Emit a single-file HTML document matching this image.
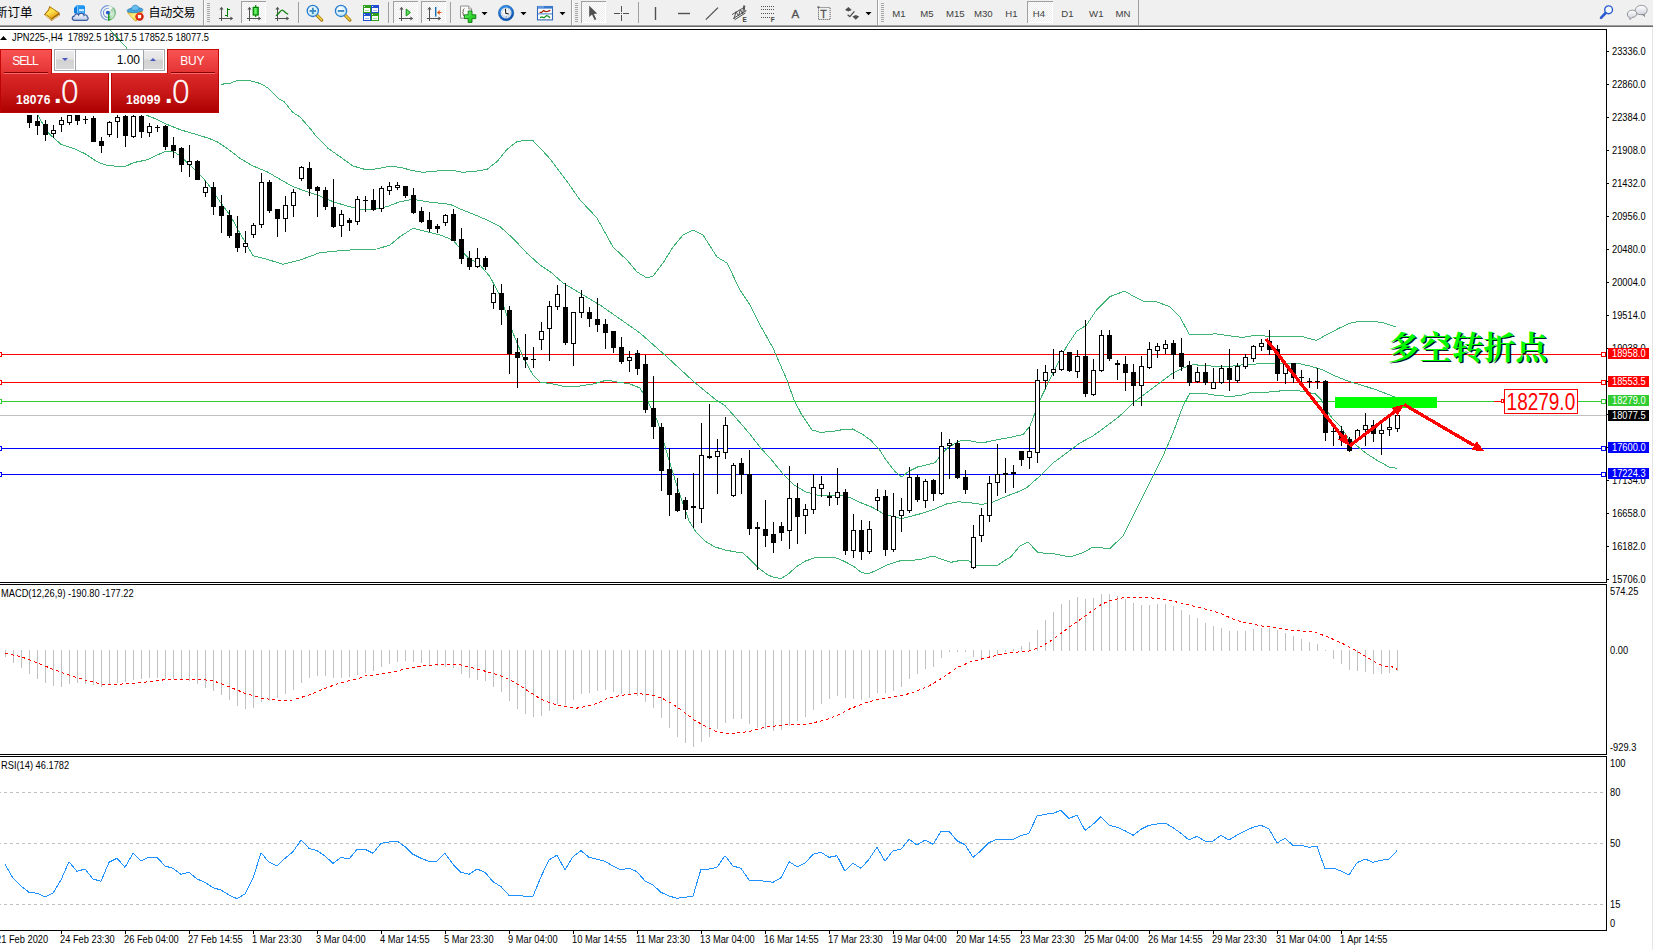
<!DOCTYPE html>
<html><head><meta charset="utf-8"><title>JPN225 H4</title>
<style>
html,body{margin:0;padding:0;background:#fff;}
body{width:1653px;height:950px;overflow:hidden;position:relative;font-family:"Liberation Sans","Noto Sans CJK SC",sans-serif;}
#tb{position:absolute;left:0;top:0;width:1653px;height:25px;background:#F0F0F0;}
#tbl1{position:absolute;left:0;top:25px;width:1653px;height:1px;background:#a0a0a0;}
#tbl2{position:absolute;left:0;top:26px;width:1653px;height:1px;background:#696969;}

#oc{position:absolute;left:0;top:49px;width:219px;height:64px;font-family:"Liberation Sans",sans-serif;}
#oc div{position:absolute;box-sizing:border-box;}
.tab{top:0;height:25px;background:linear-gradient(#f95252,#e23232);border:1px solid #c40808;border-bottom:none;color:#fff;font-size:12px;text-align:center;line-height:22px;letter-spacing:-1px;}
.big{top:24px;height:40px;background:linear-gradient(#dd2a2a 0%,#c81818 50%,#ae0000 100%);border:1px solid #bb0505;border-top:none;color:#fff;}
.ul{height:2px;border-top:1px solid #8a0000;border-bottom:1px solid #f46a6a;top:23px;}
.num{letter-spacing:0.25px;font-weight:bold;font-size:12px;color:#fff;white-space:nowrap;line-height:12px;}
.dot{font-weight:bold;font-size:27px;line-height:30px;color:#fff;}
.zero{font-family:"DejaVu Sans","Liberation Sans",sans-serif;font-weight:200;font-size:32.6px;line-height:34px;color:#fff;-webkit-text-stroke:0.55px #fff;transform:scaleX(0.95);transform-origin:0 0;}
.spin{background:linear-gradient(#ebebeb 0%,#e4e4e4 45%,#d2d2d2 50%,#d8d8d8 100%);}

</style></head><body>
<svg class="chart" width="1653" height="950" viewBox="0 0 1653 950" style="position:absolute;left:0;top:0">
<g shape-rendering="crispEdges">
<rect x="0" y="415" width="1606" height="1" fill="#C0C0C0"/>
<rect x="0" y="354" width="1606" height="1" fill="#FF0000"/>
<rect x="-2.5" y="352.5" width="4" height="4" fill="#fff" stroke="#FF0000" stroke-width="1"/>
<rect x="1601.5" y="352.5" width="4" height="4" fill="#fff" stroke="#FF0000" stroke-width="1"/>
<rect x="0" y="382" width="1606" height="1" fill="#FF0000"/>
<rect x="-2.5" y="380.5" width="4" height="4" fill="#fff" stroke="#FF0000" stroke-width="1"/>
<rect x="1601.5" y="380.5" width="4" height="4" fill="#fff" stroke="#FF0000" stroke-width="1"/>
<rect x="0" y="401" width="1606" height="1" fill="#32CD32"/>
<rect x="-2.5" y="399.5" width="4" height="4" fill="#fff" stroke="#32CD32" stroke-width="1"/>
<rect x="1601.5" y="399.5" width="4" height="4" fill="#fff" stroke="#32CD32" stroke-width="1"/>
<rect x="0" y="448" width="1606" height="1" fill="#0000FF"/>
<rect x="-2.5" y="446.5" width="4" height="4" fill="#fff" stroke="#0000FF" stroke-width="1"/>
<rect x="1601.5" y="446.5" width="4" height="4" fill="#fff" stroke="#0000FF" stroke-width="1"/>
<rect x="0" y="474" width="1606" height="1" fill="#0000FF"/>
<rect x="-2.5" y="472.5" width="4" height="4" fill="#fff" stroke="#0000FF" stroke-width="1"/>
<rect x="1601.5" y="472.5" width="4" height="4" fill="#fff" stroke="#0000FF" stroke-width="1"/>
<polyline points="221.2,84.5 225.0,83.7 230.0,83.4 233.0,82.0 237.0,80.6 243.0,80.4 249.0,80.4 252.0,81.3 257.0,82.4 262.0,84.4 268.0,88.0 273.0,93.0 278.0,98.3 284.0,101.5 288.0,106.4 292.0,111.5 296.0,114.5 300.0,117.0 305.0,122.5 311.0,129.5 316.0,136.0 322.0,142.0 328.0,148.3 334.0,152.5 340.0,156.7 353.0,166.0 367.0,170.0 380.0,168.3 390.0,166.3 400.0,167.3 413.0,170.7 423.0,172.3 437.0,171.0 450.0,170.0 463.0,172.3 477.0,171.0 487.0,169.3 497.0,161.7 507.0,149.3 517.0,141.7 527.0,140.0 533.0,140.7 542.0,150.0 551.0,160.0 566.0,180.0 580.0,200.0 597.0,218.0 613.0,247.0 627.0,260.0 637.0,272.0 647.0,278.0 653.0,276.0 663.0,263.0 673.0,247.0 683.0,235.0 693.0,230.0 703.0,235.0 717.0,257.0 727.0,263.0 740.0,290.0 750.0,305.0 760.0,325.0 773.0,348.0 787.0,380.0 794.0,400.0 801.0,413.4 812.0,430.0 821.0,432.5 834.6,431.0 843.5,429.5 852.5,429.0 861.4,433.6 870.4,440.0 879.0,449.0 886.0,460.0 895.0,471.6 901.7,477.0 908.4,471.6 917.4,467.0 926.0,465.0 935.0,462.7 942.0,453.7 948.7,447.0 960.0,441.0 969.0,440.7 982.0,443.0 995.7,440.0 1009.0,437.6 1023.0,434.6 1030.0,426.0 1040.0,399.7 1053.0,373.0 1066.5,346.5 1076.5,331.5 1086.5,325.0 1096.5,310.0 1110.0,296.6 1124.7,291.0 1133.0,296.0 1143.0,301.0 1156.0,301.6 1169.6,306.6 1179.6,316.6 1189.6,334.8 1203.0,334.8 1216.0,333.8 1229.5,335.8 1242.8,337.5 1256.0,335.0 1269.4,336.5 1282.7,336.4 1296.0,336.2 1302.0,336.3 1309.0,338.5 1316.5,340.4 1326.0,335.0 1339.0,328.3 1344.4,325.7 1349.0,323.5 1358.0,321.5 1369.0,321.0 1382.5,322.5 1395.8,327.0" fill="none" stroke="#3CB371" stroke-width="1" />
<polyline points="109.0,29.0 126.0,47.0 136.0,80.0 146.0,115.0 157.2,119.5 168.4,125.0 181.0,130.0 194.8,134.0 208.7,138.3 217.0,141.7 227.0,148.3 240.0,158.3 253.0,166.0 267.0,171.7 280.0,179.3 293.0,186.7 307.0,191.7 320.0,196.0 333.0,201.7 347.0,206.0 360.0,209.0 373.0,209.0 387.0,206.7 400.0,201.7 413.0,199.3 427.0,201.7 440.0,203.3 450.0,204.3 460.0,209.0 473.0,214.0 487.0,220.0 500.0,226.7 513.0,238.3 527.0,253.3 540.0,265.0 551.0,272.3 563.0,283.0 600.0,305.0 640.0,333.0 667.0,357.0 693.0,381.0 716.0,400.0 725.0,405.6 736.0,418.0 749.5,433.6 760.7,448.0 772.0,460.4 783.0,474.0 794.0,485.0 805.5,491.8 816.7,495.0 828.0,496.0 839.0,495.0 850.0,497.4 861.4,503.0 872.6,507.4 883.8,514.0 895.0,517.0 901.7,518.6 908.4,516.8 919.6,514.0 933.0,509.7 946.5,504.0 957.7,501.8 969.0,502.5 982.3,504.5 993.5,501.8 1007.0,496.0 1018.0,491.8 1026.6,487.8 1040.0,476.0 1053.0,463.0 1066.5,453.0 1079.8,443.0 1093.0,436.0 1106.4,426.0 1119.7,416.0 1133.0,403.0 1146.3,393.0 1159.6,383.0 1173.0,373.0 1183.0,368.0 1193.0,364.8 1206.0,365.4 1219.5,367.0 1229.5,366.4 1242.8,364.8 1256.0,364.0 1269.4,363.8 1282.7,364.0 1296.0,363.0 1309.0,365.8 1322.6,369.8 1336.0,376.4 1349.0,381.4 1362.5,385.4 1375.8,389.7 1389.0,394.7 1397.4,398.0" fill="none" stroke="#3CB371" stroke-width="1" />
<polyline points="30.0,95.0 38.3,116.0 48.0,132.7 61.2,144.5 72.4,148.0 84.9,153.6 97.4,161.9 105.7,165.0 114.0,166.0 125.2,166.5 133.6,162.6 147.5,159.8 155.8,155.7 165.6,151.2 174.0,151.8 180.9,156.4 186.4,162.0 194.8,169.6 203.0,178.0 210.0,186.7 220.0,201.7 230.0,215.0 240.0,233.3 253.0,255.7 267.0,259.3 283.0,264.3 300.0,260.0 320.0,252.7 340.0,250.7 360.0,249.3 377.0,249.0 390.0,245.0 400.0,236.7 413.0,228.3 427.0,231.7 440.0,235.0 453.0,240.0 467.0,256.7 480.0,265.0 490.0,276.7 500.0,296.0 513.0,333.0 523.0,357.0 533.0,375.0 540.0,382.0 553.0,384.0 567.0,387.0 580.0,386.0 593.0,384.0 607.0,380.0 617.0,382.0 630.0,384.0 640.0,388.0 647.0,400.0 657.0,420.0 660.0,429.0 669.0,460.0 678.0,489.5 689.0,521.0 696.0,532.0 705.0,541.0 714.0,546.6 725.0,550.0 736.0,552.0 743.0,553.0 749.5,559.0 758.5,568.0 767.4,574.6 774.0,577.5 781.0,578.4 787.6,574.6 796.5,566.7 805.5,561.0 814.4,558.0 823.4,557.8 834.6,557.3 843.5,561.0 852.5,565.6 861.4,572.3 868.0,574.0 877.0,570.0 888.0,564.5 899.5,561.0 910.7,560.7 922.0,559.0 933.0,556.0 942.0,559.4 951.0,562.3 960.0,560.5 969.0,561.0 975.6,565.6 986.8,565.6 998.0,565.0 1007.0,559.0 1010.0,557.7 1020.0,546.0 1028.0,542.0 1038.0,552.7 1053.0,553.7 1070.0,557.0 1083.0,552.7 1093.0,547.0 1109.8,548.7 1123.0,536.0 1136.4,509.4 1149.7,482.8 1163.0,456.0 1173.0,433.0 1183.0,406.0 1189.6,393.7 1203.0,393.0 1216.0,395.4 1229.5,396.4 1239.5,395.7 1249.4,393.0 1269.4,392.0 1282.7,390.7 1296.0,390.4 1304.7,391.6 1315.7,394.0 1321.0,399.6 1326.6,409.8 1332.0,418.0 1340.3,426.2 1348.5,438.6 1359.5,448.0 1365.0,452.5 1375.8,459.6 1389.0,467.0 1397.4,468.5" fill="none" stroke="#3CB371" stroke-width="1" />
<rect x="29" y="105" width="1" height="23" fill="#000"/>
<rect x="27" y="108" width="5" height="15" fill="#000"/>
<rect x="37" y="112" width="1" height="23" fill="#000"/>
<rect x="35" y="121" width="5" height="5" fill="#000"/>
<rect x="45" y="120" width="1" height="21" fill="#000"/>
<rect x="43" y="124" width="5" height="11" fill="#000"/>
<rect x="53" y="125" width="1" height="13" fill="#000"/>
<rect x="51" y="130" width="5" height="4" fill="#000"/>
<rect x="52" y="131" width="3" height="2" fill="#fff"/>
<rect x="61" y="117" width="1" height="15" fill="#000"/>
<rect x="59" y="120" width="5" height="5" fill="#000"/>
<rect x="60" y="121" width="3" height="3" fill="#fff"/>
<rect x="69" y="112" width="1" height="13" fill="#000"/>
<rect x="67" y="115" width="5" height="8" fill="#000"/>
<rect x="68" y="116" width="3" height="6" fill="#fff"/>
<rect x="77" y="112" width="1" height="13" fill="#000"/>
<rect x="75" y="115" width="5" height="6" fill="#000"/>
<rect x="85" y="116" width="1" height="8" fill="#000"/>
<rect x="83" y="119" width="5" height="1" fill="#000"/>
<rect x="93" y="116" width="1" height="26" fill="#000"/>
<rect x="91" y="118" width="5" height="24" fill="#000"/>
<rect x="101" y="137" width="1" height="16" fill="#000"/>
<rect x="99" y="141" width="5" height="5" fill="#000"/>
<rect x="109" y="121" width="1" height="16" fill="#000"/>
<rect x="107" y="122" width="5" height="13" fill="#000"/>
<rect x="108" y="123" width="3" height="11" fill="#fff"/>
<rect x="117" y="115" width="1" height="23" fill="#000"/>
<rect x="115" y="117" width="5" height="5" fill="#000"/>
<rect x="116" y="118" width="3" height="3" fill="#fff"/>
<rect x="125" y="113" width="1" height="34" fill="#000"/>
<rect x="123" y="116" width="5" height="20" fill="#000"/>
<rect x="133" y="113" width="1" height="25" fill="#000"/>
<rect x="131" y="116" width="5" height="21" fill="#000"/>
<rect x="132" y="117" width="3" height="19" fill="#fff"/>
<rect x="141" y="113" width="1" height="25" fill="#000"/>
<rect x="139" y="116" width="5" height="16" fill="#000"/>
<rect x="149" y="123" width="1" height="14" fill="#000"/>
<rect x="147" y="126" width="5" height="7" fill="#000"/>
<rect x="148" y="127" width="3" height="5" fill="#fff"/>
<rect x="157" y="125" width="1" height="7" fill="#000"/>
<rect x="155" y="127" width="5" height="1" fill="#000"/>
<rect x="165" y="125" width="1" height="25" fill="#000"/>
<rect x="163" y="126" width="5" height="21" fill="#000"/>
<rect x="173" y="137" width="1" height="21" fill="#000"/>
<rect x="171" y="145" width="5" height="6" fill="#000"/>
<rect x="181" y="147" width="1" height="25" fill="#000"/>
<rect x="179" y="148" width="5" height="17" fill="#000"/>
<rect x="189" y="145" width="1" height="32" fill="#000"/>
<rect x="187" y="161" width="5" height="4" fill="#000"/>
<rect x="188" y="162" width="3" height="2" fill="#fff"/>
<rect x="197" y="160" width="1" height="20" fill="#000"/>
<rect x="195" y="161" width="5" height="19" fill="#000"/>
<rect x="205" y="181" width="1" height="16" fill="#000"/>
<rect x="203" y="187" width="5" height="6" fill="#000"/>
<rect x="204" y="188" width="3" height="4" fill="#fff"/>
<rect x="213" y="182" width="1" height="33" fill="#000"/>
<rect x="211" y="187" width="5" height="20" fill="#000"/>
<rect x="221" y="195" width="1" height="38" fill="#000"/>
<rect x="219" y="206" width="5" height="10" fill="#000"/>
<rect x="229" y="210" width="1" height="28" fill="#000"/>
<rect x="227" y="215" width="5" height="21" fill="#000"/>
<rect x="237" y="216" width="1" height="36" fill="#000"/>
<rect x="235" y="233" width="5" height="15" fill="#000"/>
<rect x="245" y="231" width="1" height="22" fill="#000"/>
<rect x="243" y="243" width="5" height="4" fill="#000"/>
<rect x="244" y="244" width="3" height="2" fill="#fff"/>
<rect x="253" y="223" width="1" height="15" fill="#000"/>
<rect x="251" y="225" width="5" height="10" fill="#000"/>
<rect x="252" y="226" width="3" height="8" fill="#fff"/>
<rect x="261" y="173" width="1" height="55" fill="#000"/>
<rect x="259" y="182" width="5" height="43" fill="#000"/>
<rect x="260" y="183" width="3" height="41" fill="#fff"/>
<rect x="269" y="180" width="1" height="33" fill="#000"/>
<rect x="267" y="182" width="5" height="29" fill="#000"/>
<rect x="277" y="209" width="1" height="28" fill="#000"/>
<rect x="275" y="209" width="5" height="10" fill="#000"/>
<rect x="285" y="196" width="1" height="36" fill="#000"/>
<rect x="283" y="205" width="5" height="14" fill="#000"/>
<rect x="284" y="206" width="3" height="12" fill="#fff"/>
<rect x="293" y="189" width="1" height="28" fill="#000"/>
<rect x="291" y="192" width="5" height="14" fill="#000"/>
<rect x="292" y="193" width="3" height="12" fill="#fff"/>
<rect x="301" y="166" width="1" height="15" fill="#000"/>
<rect x="299" y="167" width="5" height="12" fill="#000"/>
<rect x="300" y="168" width="3" height="10" fill="#fff"/>
<rect x="309" y="162" width="1" height="34" fill="#000"/>
<rect x="307" y="168" width="5" height="21" fill="#000"/>
<rect x="317" y="186" width="1" height="31" fill="#000"/>
<rect x="315" y="187" width="5" height="4" fill="#000"/>
<rect x="325" y="187" width="1" height="23" fill="#000"/>
<rect x="323" y="190" width="5" height="17" fill="#000"/>
<rect x="333" y="179" width="1" height="49" fill="#000"/>
<rect x="331" y="207" width="5" height="20" fill="#000"/>
<rect x="341" y="210" width="1" height="27" fill="#000"/>
<rect x="339" y="214" width="5" height="12" fill="#000"/>
<rect x="340" y="215" width="3" height="10" fill="#fff"/>
<rect x="349" y="218" width="1" height="13" fill="#000"/>
<rect x="347" y="220" width="5" height="3" fill="#000"/>
<rect x="357" y="196" width="1" height="29" fill="#000"/>
<rect x="355" y="199" width="5" height="23" fill="#000"/>
<rect x="356" y="200" width="3" height="21" fill="#fff"/>
<rect x="365" y="196" width="1" height="16" fill="#000"/>
<rect x="363" y="200" width="5" height="1" fill="#000"/>
<rect x="373" y="189" width="1" height="22" fill="#000"/>
<rect x="371" y="200" width="5" height="10" fill="#000"/>
<rect x="381" y="186" width="1" height="26" fill="#000"/>
<rect x="379" y="188" width="5" height="21" fill="#000"/>
<rect x="380" y="189" width="3" height="19" fill="#fff"/>
<rect x="389" y="182" width="1" height="13" fill="#000"/>
<rect x="387" y="186" width="5" height="5" fill="#000"/>
<rect x="388" y="187" width="3" height="3" fill="#fff"/>
<rect x="397" y="182" width="1" height="8" fill="#000"/>
<rect x="395" y="185" width="5" height="3" fill="#000"/>
<rect x="396" y="186" width="3" height="1" fill="#fff"/>
<rect x="405" y="186" width="1" height="12" fill="#000"/>
<rect x="403" y="186" width="5" height="10" fill="#000"/>
<rect x="413" y="188" width="1" height="26" fill="#000"/>
<rect x="411" y="195" width="5" height="18" fill="#000"/>
<rect x="421" y="207" width="1" height="16" fill="#000"/>
<rect x="419" y="211" width="5" height="11" fill="#000"/>
<rect x="429" y="212" width="1" height="20" fill="#000"/>
<rect x="427" y="220" width="5" height="9" fill="#000"/>
<rect x="437" y="224" width="1" height="9" fill="#000"/>
<rect x="435" y="226" width="5" height="3" fill="#000"/>
<rect x="445" y="214" width="1" height="12" fill="#000"/>
<rect x="443" y="215" width="5" height="8" fill="#000"/>
<rect x="444" y="216" width="3" height="6" fill="#fff"/>
<rect x="453" y="209" width="1" height="32" fill="#000"/>
<rect x="451" y="214" width="5" height="27" fill="#000"/>
<rect x="461" y="228" width="1" height="36" fill="#000"/>
<rect x="459" y="239" width="5" height="20" fill="#000"/>
<rect x="469" y="251" width="1" height="19" fill="#000"/>
<rect x="467" y="258" width="5" height="9" fill="#000"/>
<rect x="477" y="248" width="1" height="20" fill="#000"/>
<rect x="475" y="258" width="5" height="9" fill="#000"/>
<rect x="476" y="259" width="3" height="7" fill="#fff"/>
<rect x="485" y="256" width="1" height="14" fill="#000"/>
<rect x="483" y="258" width="5" height="9" fill="#000"/>
<rect x="493" y="285" width="1" height="24" fill="#000"/>
<rect x="491" y="293" width="5" height="10" fill="#000"/>
<rect x="492" y="294" width="3" height="8" fill="#fff"/>
<rect x="501" y="284" width="1" height="41" fill="#000"/>
<rect x="499" y="293" width="5" height="17" fill="#000"/>
<rect x="509" y="306" width="1" height="68" fill="#000"/>
<rect x="507" y="310" width="5" height="44" fill="#000"/>
<rect x="517" y="338" width="1" height="50" fill="#000"/>
<rect x="515" y="352" width="5" height="6" fill="#000"/>
<rect x="525" y="334" width="1" height="34" fill="#000"/>
<rect x="523" y="357" width="5" height="3" fill="#000"/>
<rect x="533" y="347" width="1" height="21" fill="#000"/>
<rect x="531" y="359" width="5" height="1" fill="#000"/>
<rect x="541" y="322" width="1" height="28" fill="#000"/>
<rect x="539" y="331" width="5" height="9" fill="#000"/>
<rect x="540" y="332" width="3" height="7" fill="#fff"/>
<rect x="549" y="301" width="1" height="60" fill="#000"/>
<rect x="547" y="306" width="5" height="23" fill="#000"/>
<rect x="548" y="307" width="3" height="21" fill="#fff"/>
<rect x="557" y="285" width="1" height="25" fill="#000"/>
<rect x="555" y="294" width="5" height="13" fill="#000"/>
<rect x="556" y="295" width="3" height="11" fill="#fff"/>
<rect x="565" y="283" width="1" height="62" fill="#000"/>
<rect x="563" y="307" width="5" height="36" fill="#000"/>
<rect x="573" y="312" width="1" height="54" fill="#000"/>
<rect x="571" y="312" width="5" height="32" fill="#000"/>
<rect x="572" y="313" width="3" height="30" fill="#fff"/>
<rect x="581" y="290" width="1" height="28" fill="#000"/>
<rect x="579" y="297" width="5" height="16" fill="#000"/>
<rect x="580" y="298" width="3" height="14" fill="#fff"/>
<rect x="589" y="307" width="1" height="20" fill="#000"/>
<rect x="587" y="312" width="5" height="7" fill="#000"/>
<rect x="597" y="298" width="1" height="34" fill="#000"/>
<rect x="595" y="319" width="5" height="6" fill="#000"/>
<rect x="605" y="319" width="1" height="30" fill="#000"/>
<rect x="603" y="324" width="5" height="9" fill="#000"/>
<rect x="613" y="331" width="1" height="22" fill="#000"/>
<rect x="611" y="331" width="5" height="17" fill="#000"/>
<rect x="621" y="337" width="1" height="27" fill="#000"/>
<rect x="619" y="347" width="5" height="15" fill="#000"/>
<rect x="629" y="351" width="1" height="21" fill="#000"/>
<rect x="627" y="357" width="5" height="4" fill="#000"/>
<rect x="628" y="358" width="3" height="2" fill="#fff"/>
<rect x="637" y="350" width="1" height="25" fill="#000"/>
<rect x="635" y="353" width="5" height="16" fill="#000"/>
<rect x="645" y="355" width="1" height="58" fill="#000"/>
<rect x="643" y="364" width="5" height="46" fill="#000"/>
<rect x="653" y="376" width="1" height="63" fill="#000"/>
<rect x="651" y="408" width="5" height="19" fill="#000"/>
<rect x="661" y="423" width="1" height="68" fill="#000"/>
<rect x="659" y="427" width="5" height="44" fill="#000"/>
<rect x="669" y="448" width="1" height="68" fill="#000"/>
<rect x="667" y="469" width="5" height="26" fill="#000"/>
<rect x="677" y="478" width="1" height="34" fill="#000"/>
<rect x="675" y="493" width="5" height="18" fill="#000"/>
<rect x="685" y="497" width="1" height="22" fill="#000"/>
<rect x="683" y="500" width="5" height="10" fill="#000"/>
<rect x="693" y="473" width="1" height="55" fill="#000"/>
<rect x="691" y="506" width="5" height="2" fill="#000"/>
<rect x="701" y="423" width="1" height="100" fill="#000"/>
<rect x="699" y="455" width="5" height="54" fill="#000"/>
<rect x="700" y="456" width="3" height="52" fill="#fff"/>
<rect x="709" y="404" width="1" height="55" fill="#000"/>
<rect x="707" y="456" width="5" height="2" fill="#000"/>
<rect x="717" y="439" width="1" height="55" fill="#000"/>
<rect x="715" y="451" width="5" height="6" fill="#000"/>
<rect x="716" y="452" width="3" height="4" fill="#fff"/>
<rect x="725" y="417" width="1" height="42" fill="#000"/>
<rect x="723" y="425" width="5" height="28" fill="#000"/>
<rect x="724" y="426" width="3" height="26" fill="#fff"/>
<rect x="733" y="463" width="1" height="34" fill="#000"/>
<rect x="731" y="465" width="5" height="31" fill="#000"/>
<rect x="732" y="466" width="3" height="29" fill="#fff"/>
<rect x="741" y="458" width="1" height="36" fill="#000"/>
<rect x="739" y="463" width="5" height="12" fill="#000"/>
<rect x="749" y="450" width="1" height="85" fill="#000"/>
<rect x="747" y="474" width="5" height="55" fill="#000"/>
<rect x="757" y="522" width="1" height="48" fill="#000"/>
<rect x="755" y="527" width="5" height="2" fill="#000"/>
<rect x="765" y="500" width="1" height="47" fill="#000"/>
<rect x="763" y="529" width="5" height="7" fill="#000"/>
<rect x="773" y="522" width="1" height="31" fill="#000"/>
<rect x="771" y="534" width="5" height="9" fill="#000"/>
<rect x="781" y="522" width="1" height="19" fill="#000"/>
<rect x="779" y="526" width="5" height="7" fill="#000"/>
<rect x="789" y="466" width="1" height="83" fill="#000"/>
<rect x="787" y="498" width="5" height="33" fill="#000"/>
<rect x="788" y="499" width="3" height="31" fill="#fff"/>
<rect x="797" y="483" width="1" height="61" fill="#000"/>
<rect x="795" y="498" width="5" height="19" fill="#000"/>
<rect x="805" y="504" width="1" height="30" fill="#000"/>
<rect x="803" y="509" width="5" height="7" fill="#000"/>
<rect x="804" y="510" width="3" height="5" fill="#fff"/>
<rect x="813" y="474" width="1" height="40" fill="#000"/>
<rect x="811" y="487" width="5" height="23" fill="#000"/>
<rect x="812" y="488" width="3" height="21" fill="#fff"/>
<rect x="821" y="476" width="1" height="21" fill="#000"/>
<rect x="819" y="484" width="5" height="5" fill="#000"/>
<rect x="820" y="485" width="3" height="3" fill="#fff"/>
<rect x="829" y="492" width="1" height="14" fill="#000"/>
<rect x="827" y="496" width="5" height="2" fill="#000"/>
<rect x="837" y="468" width="1" height="37" fill="#000"/>
<rect x="835" y="492" width="5" height="6" fill="#000"/>
<rect x="836" y="493" width="3" height="4" fill="#fff"/>
<rect x="845" y="489" width="1" height="66" fill="#000"/>
<rect x="843" y="492" width="5" height="59" fill="#000"/>
<rect x="853" y="514" width="1" height="44" fill="#000"/>
<rect x="851" y="530" width="5" height="21" fill="#000"/>
<rect x="852" y="531" width="3" height="19" fill="#fff"/>
<rect x="861" y="520" width="1" height="40" fill="#000"/>
<rect x="859" y="530" width="5" height="22" fill="#000"/>
<rect x="869" y="521" width="1" height="33" fill="#000"/>
<rect x="867" y="529" width="5" height="23" fill="#000"/>
<rect x="868" y="530" width="3" height="21" fill="#fff"/>
<rect x="877" y="489" width="1" height="22" fill="#000"/>
<rect x="875" y="497" width="5" height="4" fill="#000"/>
<rect x="876" y="498" width="3" height="2" fill="#fff"/>
<rect x="885" y="490" width="1" height="66" fill="#000"/>
<rect x="883" y="496" width="5" height="54" fill="#000"/>
<rect x="893" y="493" width="1" height="59" fill="#000"/>
<rect x="891" y="516" width="5" height="34" fill="#000"/>
<rect x="892" y="517" width="3" height="32" fill="#fff"/>
<rect x="901" y="498" width="1" height="34" fill="#000"/>
<rect x="899" y="510" width="5" height="6" fill="#000"/>
<rect x="900" y="511" width="3" height="4" fill="#fff"/>
<rect x="909" y="467" width="1" height="46" fill="#000"/>
<rect x="907" y="477" width="5" height="34" fill="#000"/>
<rect x="908" y="478" width="3" height="32" fill="#fff"/>
<rect x="917" y="475" width="1" height="27" fill="#000"/>
<rect x="915" y="477" width="5" height="23" fill="#000"/>
<rect x="925" y="479" width="1" height="29" fill="#000"/>
<rect x="923" y="481" width="5" height="20" fill="#000"/>
<rect x="924" y="482" width="3" height="18" fill="#fff"/>
<rect x="933" y="479" width="1" height="22" fill="#000"/>
<rect x="931" y="480" width="5" height="14" fill="#000"/>
<rect x="941" y="432" width="1" height="63" fill="#000"/>
<rect x="939" y="446" width="5" height="48" fill="#000"/>
<rect x="940" y="447" width="3" height="46" fill="#fff"/>
<rect x="949" y="439" width="1" height="40" fill="#000"/>
<rect x="947" y="443" width="5" height="3" fill="#000"/>
<rect x="948" y="444" width="3" height="1" fill="#fff"/>
<rect x="957" y="440" width="1" height="39" fill="#000"/>
<rect x="955" y="443" width="5" height="35" fill="#000"/>
<rect x="965" y="470" width="1" height="24" fill="#000"/>
<rect x="963" y="477" width="5" height="13" fill="#000"/>
<rect x="973" y="525" width="1" height="44" fill="#000"/>
<rect x="971" y="537" width="5" height="31" fill="#000"/>
<rect x="972" y="538" width="3" height="29" fill="#fff"/>
<rect x="981" y="508" width="1" height="34" fill="#000"/>
<rect x="979" y="515" width="5" height="21" fill="#000"/>
<rect x="980" y="516" width="3" height="19" fill="#fff"/>
<rect x="989" y="476" width="1" height="46" fill="#000"/>
<rect x="987" y="483" width="5" height="33" fill="#000"/>
<rect x="988" y="484" width="3" height="31" fill="#fff"/>
<rect x="997" y="444" width="1" height="52" fill="#000"/>
<rect x="995" y="474" width="5" height="9" fill="#000"/>
<rect x="996" y="475" width="3" height="7" fill="#fff"/>
<rect x="1005" y="458" width="1" height="35" fill="#000"/>
<rect x="1003" y="473" width="5" height="2" fill="#000"/>
<rect x="1013" y="465" width="1" height="23" fill="#000"/>
<rect x="1011" y="472" width="5" height="2" fill="#000"/>
<rect x="1021" y="451" width="1" height="15" fill="#000"/>
<rect x="1019" y="451" width="5" height="9" fill="#000"/>
<rect x="1029" y="427" width="1" height="42" fill="#000"/>
<rect x="1027" y="451" width="5" height="7" fill="#000"/>
<rect x="1028" y="452" width="3" height="5" fill="#fff"/>
<rect x="1037" y="369" width="1" height="94" fill="#000"/>
<rect x="1035" y="380" width="5" height="73" fill="#000"/>
<rect x="1036" y="381" width="3" height="71" fill="#fff"/>
<rect x="1045" y="365" width="1" height="24" fill="#000"/>
<rect x="1043" y="372" width="5" height="9" fill="#000"/>
<rect x="1044" y="373" width="3" height="7" fill="#fff"/>
<rect x="1053" y="349" width="1" height="27" fill="#000"/>
<rect x="1051" y="369" width="5" height="4" fill="#000"/>
<rect x="1052" y="370" width="3" height="2" fill="#fff"/>
<rect x="1061" y="350" width="1" height="21" fill="#000"/>
<rect x="1059" y="351" width="5" height="19" fill="#000"/>
<rect x="1060" y="352" width="3" height="17" fill="#fff"/>
<rect x="1069" y="352" width="1" height="20" fill="#000"/>
<rect x="1067" y="352" width="5" height="19" fill="#000"/>
<rect x="1077" y="350" width="1" height="28" fill="#000"/>
<rect x="1075" y="356" width="5" height="16" fill="#000"/>
<rect x="1076" y="357" width="3" height="14" fill="#fff"/>
<rect x="1085" y="320" width="1" height="77" fill="#000"/>
<rect x="1083" y="356" width="5" height="38" fill="#000"/>
<rect x="1093" y="359" width="1" height="37" fill="#000"/>
<rect x="1091" y="370" width="5" height="25" fill="#000"/>
<rect x="1092" y="371" width="3" height="23" fill="#fff"/>
<rect x="1101" y="330" width="1" height="42" fill="#000"/>
<rect x="1099" y="335" width="5" height="36" fill="#000"/>
<rect x="1100" y="336" width="3" height="34" fill="#fff"/>
<rect x="1109" y="330" width="1" height="31" fill="#000"/>
<rect x="1107" y="335" width="5" height="24" fill="#000"/>
<rect x="1117" y="360" width="1" height="20" fill="#000"/>
<rect x="1115" y="363" width="5" height="2" fill="#000"/>
<rect x="1125" y="356" width="1" height="35" fill="#000"/>
<rect x="1123" y="364" width="5" height="9" fill="#000"/>
<rect x="1133" y="364" width="1" height="42" fill="#000"/>
<rect x="1131" y="372" width="5" height="14" fill="#000"/>
<rect x="1141" y="356" width="1" height="50" fill="#000"/>
<rect x="1139" y="366" width="5" height="20" fill="#000"/>
<rect x="1140" y="367" width="3" height="18" fill="#fff"/>
<rect x="1149" y="342" width="1" height="27" fill="#000"/>
<rect x="1147" y="349" width="5" height="19" fill="#000"/>
<rect x="1148" y="350" width="3" height="17" fill="#fff"/>
<rect x="1157" y="343" width="1" height="15" fill="#000"/>
<rect x="1155" y="346" width="5" height="5" fill="#000"/>
<rect x="1156" y="347" width="3" height="3" fill="#fff"/>
<rect x="1165" y="340" width="1" height="14" fill="#000"/>
<rect x="1163" y="344" width="5" height="5" fill="#000"/>
<rect x="1164" y="345" width="3" height="3" fill="#fff"/>
<rect x="1173" y="340" width="1" height="39" fill="#000"/>
<rect x="1171" y="343" width="5" height="12" fill="#000"/>
<rect x="1181" y="338" width="1" height="33" fill="#000"/>
<rect x="1179" y="353" width="5" height="14" fill="#000"/>
<rect x="1189" y="361" width="1" height="25" fill="#000"/>
<rect x="1187" y="365" width="5" height="18" fill="#000"/>
<rect x="1197" y="367" width="1" height="16" fill="#000"/>
<rect x="1195" y="372" width="5" height="10" fill="#000"/>
<rect x="1196" y="373" width="3" height="8" fill="#fff"/>
<rect x="1205" y="363" width="1" height="22" fill="#000"/>
<rect x="1203" y="372" width="5" height="11" fill="#000"/>
<rect x="1213" y="368" width="1" height="21" fill="#000"/>
<rect x="1211" y="382" width="5" height="7" fill="#000"/>
<rect x="1212" y="383" width="3" height="5" fill="#fff"/>
<rect x="1221" y="365" width="1" height="19" fill="#000"/>
<rect x="1219" y="368" width="5" height="15" fill="#000"/>
<rect x="1220" y="369" width="3" height="13" fill="#fff"/>
<rect x="1229" y="349" width="1" height="42" fill="#000"/>
<rect x="1227" y="368" width="5" height="12" fill="#000"/>
<rect x="1237" y="363" width="1" height="20" fill="#000"/>
<rect x="1235" y="366" width="5" height="15" fill="#000"/>
<rect x="1236" y="367" width="3" height="13" fill="#fff"/>
<rect x="1245" y="354" width="1" height="15" fill="#000"/>
<rect x="1243" y="357" width="5" height="10" fill="#000"/>
<rect x="1244" y="358" width="3" height="8" fill="#fff"/>
<rect x="1253" y="345" width="1" height="17" fill="#000"/>
<rect x="1251" y="346" width="5" height="13" fill="#000"/>
<rect x="1252" y="347" width="3" height="11" fill="#fff"/>
<rect x="1261" y="339" width="1" height="12" fill="#000"/>
<rect x="1259" y="343" width="5" height="4" fill="#000"/>
<rect x="1260" y="344" width="3" height="2" fill="#fff"/>
<rect x="1269" y="330" width="1" height="25" fill="#000"/>
<rect x="1267" y="341" width="5" height="9" fill="#000"/>
<rect x="1277" y="345" width="1" height="36" fill="#000"/>
<rect x="1275" y="349" width="5" height="25" fill="#000"/>
<rect x="1285" y="361" width="1" height="23" fill="#000"/>
<rect x="1283" y="364" width="5" height="10" fill="#000"/>
<rect x="1284" y="365" width="3" height="8" fill="#fff"/>
<rect x="1293" y="363" width="1" height="20" fill="#000"/>
<rect x="1291" y="363" width="5" height="15" fill="#000"/>
<rect x="1301" y="370" width="1" height="12" fill="#000"/>
<rect x="1299" y="377" width="5" height="1" fill="#000"/>
<rect x="1309" y="378" width="1" height="10" fill="#000"/>
<rect x="1307" y="381" width="5" height="1" fill="#000"/>
<rect x="1317" y="368" width="1" height="21" fill="#000"/>
<rect x="1315" y="381" width="5" height="1" fill="#000"/>
<rect x="1325" y="380" width="1" height="61" fill="#000"/>
<rect x="1323" y="381" width="5" height="52" fill="#000"/>
<rect x="1333" y="428" width="1" height="18" fill="#000"/>
<rect x="1331" y="431" width="5" height="1" fill="#000"/>
<rect x="1341" y="426" width="1" height="20" fill="#000"/>
<rect x="1339" y="431" width="5" height="9" fill="#000"/>
<rect x="1349" y="437" width="1" height="15" fill="#000"/>
<rect x="1347" y="439" width="5" height="12" fill="#000"/>
<rect x="1357" y="429" width="1" height="13" fill="#000"/>
<rect x="1355" y="430" width="5" height="10" fill="#000"/>
<rect x="1356" y="431" width="3" height="8" fill="#fff"/>
<rect x="1365" y="413" width="1" height="33" fill="#000"/>
<rect x="1363" y="425" width="5" height="5" fill="#000"/>
<rect x="1364" y="426" width="3" height="3" fill="#fff"/>
<rect x="1373" y="420" width="1" height="22" fill="#000"/>
<rect x="1371" y="425" width="5" height="9" fill="#000"/>
<rect x="1381" y="424" width="1" height="31" fill="#000"/>
<rect x="1379" y="430" width="5" height="4" fill="#000"/>
<rect x="1380" y="431" width="3" height="2" fill="#fff"/>
<rect x="1389" y="417" width="1" height="19" fill="#000"/>
<rect x="1387" y="427" width="5" height="3" fill="#000"/>
<rect x="1388" y="428" width="3" height="1" fill="#fff"/>
<rect x="1397" y="413" width="1" height="19" fill="#000"/>
<rect x="1395" y="415" width="5" height="14" fill="#000"/>
<rect x="1396" y="416" width="3" height="12" fill="#fff"/>
<rect x="1335" y="397" width="102" height="11" fill="#00FF00"/>
<rect x="5" y="650" width="1" height="7" fill="#C0C0C0"/>
<rect x="13" y="650" width="1" height="13" fill="#C0C0C0"/>
<rect x="21" y="650" width="1" height="18" fill="#C0C0C0"/>
<rect x="29" y="650" width="1" height="24" fill="#C0C0C0"/>
<rect x="37" y="650" width="1" height="29" fill="#C0C0C0"/>
<rect x="45" y="650" width="1" height="33" fill="#C0C0C0"/>
<rect x="53" y="650" width="1" height="36" fill="#C0C0C0"/>
<rect x="61" y="650" width="1" height="37" fill="#C0C0C0"/>
<rect x="69" y="650" width="1" height="34" fill="#C0C0C0"/>
<rect x="77" y="650" width="1" height="33" fill="#C0C0C0"/>
<rect x="85" y="650" width="1" height="34" fill="#C0C0C0"/>
<rect x="93" y="650" width="1" height="35" fill="#C0C0C0"/>
<rect x="101" y="650" width="1" height="37" fill="#C0C0C0"/>
<rect x="109" y="650" width="1" height="35" fill="#C0C0C0"/>
<rect x="117" y="650" width="1" height="33" fill="#C0C0C0"/>
<rect x="125" y="650" width="1" height="32" fill="#C0C0C0"/>
<rect x="133" y="650" width="1" height="30" fill="#C0C0C0"/>
<rect x="141" y="650" width="1" height="29" fill="#C0C0C0"/>
<rect x="149" y="650" width="1" height="28" fill="#C0C0C0"/>
<rect x="157" y="650" width="1" height="28" fill="#C0C0C0"/>
<rect x="165" y="650" width="1" height="29" fill="#C0C0C0"/>
<rect x="173" y="650" width="1" height="29" fill="#C0C0C0"/>
<rect x="181" y="650" width="1" height="30" fill="#C0C0C0"/>
<rect x="189" y="650" width="1" height="31" fill="#C0C0C0"/>
<rect x="197" y="650" width="1" height="34" fill="#C0C0C0"/>
<rect x="205" y="650" width="1" height="38" fill="#C0C0C0"/>
<rect x="213" y="650" width="1" height="41" fill="#C0C0C0"/>
<rect x="221" y="650" width="1" height="45" fill="#C0C0C0"/>
<rect x="229" y="650" width="1" height="50" fill="#C0C0C0"/>
<rect x="237" y="650" width="1" height="56" fill="#C0C0C0"/>
<rect x="245" y="650" width="1" height="59" fill="#C0C0C0"/>
<rect x="253" y="650" width="1" height="58" fill="#C0C0C0"/>
<rect x="261" y="650" width="1" height="52" fill="#C0C0C0"/>
<rect x="269" y="650" width="1" height="51" fill="#C0C0C0"/>
<rect x="277" y="650" width="1" height="48" fill="#C0C0C0"/>
<rect x="285" y="650" width="1" height="44" fill="#C0C0C0"/>
<rect x="293" y="650" width="1" height="40" fill="#C0C0C0"/>
<rect x="301" y="650" width="1" height="33" fill="#C0C0C0"/>
<rect x="309" y="650" width="1" height="28" fill="#C0C0C0"/>
<rect x="317" y="650" width="1" height="26" fill="#C0C0C0"/>
<rect x="325" y="650" width="1" height="26" fill="#C0C0C0"/>
<rect x="333" y="650" width="1" height="28" fill="#C0C0C0"/>
<rect x="341" y="650" width="1" height="28" fill="#C0C0C0"/>
<rect x="349" y="650" width="1" height="27" fill="#C0C0C0"/>
<rect x="357" y="650" width="1" height="25" fill="#C0C0C0"/>
<rect x="365" y="650" width="1" height="23" fill="#C0C0C0"/>
<rect x="373" y="650" width="1" height="21" fill="#C0C0C0"/>
<rect x="381" y="650" width="1" height="17" fill="#C0C0C0"/>
<rect x="389" y="650" width="1" height="14" fill="#C0C0C0"/>
<rect x="397" y="650" width="1" height="12" fill="#C0C0C0"/>
<rect x="405" y="650" width="1" height="11" fill="#C0C0C0"/>
<rect x="413" y="650" width="1" height="12" fill="#C0C0C0"/>
<rect x="421" y="650" width="1" height="13" fill="#C0C0C0"/>
<rect x="429" y="650" width="1" height="15" fill="#C0C0C0"/>
<rect x="437" y="650" width="1" height="16" fill="#C0C0C0"/>
<rect x="445" y="650" width="1" height="17" fill="#C0C0C0"/>
<rect x="453" y="650" width="1" height="18" fill="#C0C0C0"/>
<rect x="461" y="650" width="1" height="24" fill="#C0C0C0"/>
<rect x="469" y="650" width="1" height="28" fill="#C0C0C0"/>
<rect x="477" y="650" width="1" height="30" fill="#C0C0C0"/>
<rect x="485" y="650" width="1" height="31" fill="#C0C0C0"/>
<rect x="493" y="650" width="1" height="37" fill="#C0C0C0"/>
<rect x="501" y="650" width="1" height="42" fill="#C0C0C0"/>
<rect x="509" y="650" width="1" height="51" fill="#C0C0C0"/>
<rect x="517" y="650" width="1" height="59" fill="#C0C0C0"/>
<rect x="525" y="650" width="1" height="64" fill="#C0C0C0"/>
<rect x="533" y="650" width="1" height="67" fill="#C0C0C0"/>
<rect x="541" y="650" width="1" height="66" fill="#C0C0C0"/>
<rect x="549" y="650" width="1" height="61" fill="#C0C0C0"/>
<rect x="557" y="650" width="1" height="54" fill="#C0C0C0"/>
<rect x="565" y="650" width="1" height="55" fill="#C0C0C0"/>
<rect x="573" y="650" width="1" height="50" fill="#C0C0C0"/>
<rect x="581" y="650" width="1" height="44" fill="#C0C0C0"/>
<rect x="589" y="650" width="1" height="43" fill="#C0C0C0"/>
<rect x="597" y="650" width="1" height="41" fill="#C0C0C0"/>
<rect x="605" y="650" width="1" height="40" fill="#C0C0C0"/>
<rect x="613" y="650" width="1" height="42" fill="#C0C0C0"/>
<rect x="621" y="650" width="1" height="44" fill="#C0C0C0"/>
<rect x="629" y="650" width="1" height="45" fill="#C0C0C0"/>
<rect x="637" y="650" width="1" height="46" fill="#C0C0C0"/>
<rect x="645" y="650" width="1" height="52" fill="#C0C0C0"/>
<rect x="653" y="650" width="1" height="58" fill="#C0C0C0"/>
<rect x="661" y="650" width="1" height="68" fill="#C0C0C0"/>
<rect x="669" y="650" width="1" height="78" fill="#C0C0C0"/>
<rect x="677" y="650" width="1" height="87" fill="#C0C0C0"/>
<rect x="685" y="650" width="1" height="93" fill="#C0C0C0"/>
<rect x="693" y="650" width="1" height="97" fill="#C0C0C0"/>
<rect x="701" y="650" width="1" height="92" fill="#C0C0C0"/>
<rect x="709" y="650" width="1" height="87" fill="#C0C0C0"/>
<rect x="717" y="650" width="1" height="79" fill="#C0C0C0"/>
<rect x="725" y="650" width="1" height="73" fill="#C0C0C0"/>
<rect x="733" y="650" width="1" height="69" fill="#C0C0C0"/>
<rect x="741" y="650" width="1" height="69" fill="#C0C0C0"/>
<rect x="749" y="650" width="1" height="74" fill="#C0C0C0"/>
<rect x="757" y="650" width="1" height="78" fill="#C0C0C0"/>
<rect x="765" y="650" width="1" height="79" fill="#C0C0C0"/>
<rect x="773" y="650" width="1" height="81" fill="#C0C0C0"/>
<rect x="781" y="650" width="1" height="80" fill="#C0C0C0"/>
<rect x="789" y="650" width="1" height="76" fill="#C0C0C0"/>
<rect x="797" y="650" width="1" height="71" fill="#C0C0C0"/>
<rect x="805" y="650" width="1" height="67" fill="#C0C0C0"/>
<rect x="813" y="650" width="1" height="60" fill="#C0C0C0"/>
<rect x="821" y="650" width="1" height="54" fill="#C0C0C0"/>
<rect x="829" y="650" width="1" height="49" fill="#C0C0C0"/>
<rect x="837" y="650" width="1" height="46" fill="#C0C0C0"/>
<rect x="845" y="650" width="1" height="48" fill="#C0C0C0"/>
<rect x="853" y="650" width="1" height="49" fill="#C0C0C0"/>
<rect x="861" y="650" width="1" height="50" fill="#C0C0C0"/>
<rect x="869" y="650" width="1" height="48" fill="#C0C0C0"/>
<rect x="877" y="650" width="1" height="43" fill="#C0C0C0"/>
<rect x="885" y="650" width="1" height="43" fill="#C0C0C0"/>
<rect x="893" y="650" width="1" height="41" fill="#C0C0C0"/>
<rect x="901" y="650" width="1" height="37" fill="#C0C0C0"/>
<rect x="909" y="650" width="1" height="29" fill="#C0C0C0"/>
<rect x="917" y="650" width="1" height="24" fill="#C0C0C0"/>
<rect x="925" y="650" width="1" height="19" fill="#C0C0C0"/>
<rect x="933" y="650" width="1" height="17" fill="#C0C0C0"/>
<rect x="941" y="650" width="1" height="8" fill="#C0C0C0"/>
<rect x="949" y="650" width="1" height="2" fill="#C0C0C0"/>
<rect x="957" y="650" width="1" height="2" fill="#C0C0C0"/>
<rect x="965" y="650" width="1" height="2" fill="#C0C0C0"/>
<rect x="973" y="650" width="1" height="7" fill="#C0C0C0"/>
<rect x="981" y="650" width="1" height="9" fill="#C0C0C0"/>
<rect x="989" y="650" width="1" height="7" fill="#C0C0C0"/>
<rect x="997" y="650" width="1" height="5" fill="#C0C0C0"/>
<rect x="1005" y="650" width="1" height="2" fill="#C0C0C0"/>
<rect x="1013" y="649" width="1" height="2" fill="#C0C0C0"/>
<rect x="1021" y="646" width="1" height="5" fill="#C0C0C0"/>
<rect x="1029" y="642" width="1" height="9" fill="#C0C0C0"/>
<rect x="1037" y="630" width="1" height="21" fill="#C0C0C0"/>
<rect x="1045" y="620" width="1" height="31" fill="#C0C0C0"/>
<rect x="1053" y="612" width="1" height="39" fill="#C0C0C0"/>
<rect x="1061" y="604" width="1" height="47" fill="#C0C0C0"/>
<rect x="1069" y="600" width="1" height="51" fill="#C0C0C0"/>
<rect x="1077" y="597" width="1" height="54" fill="#C0C0C0"/>
<rect x="1085" y="599" width="1" height="52" fill="#C0C0C0"/>
<rect x="1093" y="598" width="1" height="53" fill="#C0C0C0"/>
<rect x="1101" y="594" width="1" height="57" fill="#C0C0C0"/>
<rect x="1109" y="594" width="1" height="57" fill="#C0C0C0"/>
<rect x="1117" y="596" width="1" height="55" fill="#C0C0C0"/>
<rect x="1125" y="599" width="1" height="52" fill="#C0C0C0"/>
<rect x="1133" y="603" width="1" height="48" fill="#C0C0C0"/>
<rect x="1141" y="605" width="1" height="46" fill="#C0C0C0"/>
<rect x="1149" y="605" width="1" height="46" fill="#C0C0C0"/>
<rect x="1157" y="604" width="1" height="47" fill="#C0C0C0"/>
<rect x="1165" y="604" width="1" height="47" fill="#C0C0C0"/>
<rect x="1173" y="606" width="1" height="45" fill="#C0C0C0"/>
<rect x="1181" y="610" width="1" height="41" fill="#C0C0C0"/>
<rect x="1189" y="615" width="1" height="36" fill="#C0C0C0"/>
<rect x="1197" y="618" width="1" height="33" fill="#C0C0C0"/>
<rect x="1205" y="623" width="1" height="28" fill="#C0C0C0"/>
<rect x="1213" y="626" width="1" height="25" fill="#C0C0C0"/>
<rect x="1221" y="628" width="1" height="23" fill="#C0C0C0"/>
<rect x="1229" y="631" width="1" height="20" fill="#C0C0C0"/>
<rect x="1237" y="631" width="1" height="20" fill="#C0C0C0"/>
<rect x="1245" y="631" width="1" height="20" fill="#C0C0C0"/>
<rect x="1253" y="629" width="1" height="22" fill="#C0C0C0"/>
<rect x="1261" y="628" width="1" height="23" fill="#C0C0C0"/>
<rect x="1269" y="628" width="1" height="23" fill="#C0C0C0"/>
<rect x="1277" y="630" width="1" height="21" fill="#C0C0C0"/>
<rect x="1285" y="633" width="1" height="18" fill="#C0C0C0"/>
<rect x="1293" y="636" width="1" height="15" fill="#C0C0C0"/>
<rect x="1301" y="639" width="1" height="12" fill="#C0C0C0"/>
<rect x="1309" y="642" width="1" height="9" fill="#C0C0C0"/>
<rect x="1317" y="644" width="1" height="7" fill="#C0C0C0"/>
<rect x="1325" y="650" width="1" height="1" fill="#C0C0C0"/>
<rect x="1333" y="650" width="1" height="9" fill="#C0C0C0"/>
<rect x="1341" y="650" width="1" height="14" fill="#C0C0C0"/>
<rect x="1349" y="650" width="1" height="20" fill="#C0C0C0"/>
<rect x="1357" y="650" width="1" height="21" fill="#C0C0C0"/>
<rect x="1365" y="650" width="1" height="22" fill="#C0C0C0"/>
<rect x="1373" y="650" width="1" height="24" fill="#C0C0C0"/>
<rect x="1381" y="650" width="1" height="24" fill="#C0C0C0"/>
<rect x="1389" y="650" width="1" height="23" fill="#C0C0C0"/>
<rect x="1397" y="650" width="1" height="21" fill="#C0C0C0"/>
<polyline points="5.0,653.3 21.0,656.7 37.0,662.7 53.0,669.3 69.0,675.0 85.0,680.0 101.0,684.0 117.0,684.3 133.0,683.3 149.0,681.7 165.0,679.7 181.0,679.0 197.0,679.0 213.0,680.7 229.0,686.7 245.0,693.3 261.0,698.0 277.0,700.3 293.0,700.0 309.0,695.0 325.0,688.3 341.0,682.7 357.0,679.0 365.0,676.0 381.0,674.3 397.0,671.0 413.0,667.3 429.0,665.3 445.0,664.3 461.0,665.0 477.0,669.0 493.0,673.3 509.0,679.0 525.0,689.0 541.0,699.3 551.0,703.3 564.3,706.7 576.0,708.3 587.7,706.0 597.7,703.3 606.0,699.0 617.7,696.0 629.3,694.3 639.3,693.7 651.0,695.0 661.0,697.7 672.7,704.0 684.3,712.3 694.3,720.0 706.0,726.7 717.7,732.3 729.3,733.7 741.0,732.7 752.7,730.7 764.3,727.3 777.7,725.7 791.0,724.3 807.7,724.3 817.7,721.7 827.7,719.3 837.7,715.0 851.0,708.3 864.3,703.3 877.7,699.3 894.3,696.7 911.0,693.3 927.7,686.7 944.3,676.7 957.7,667.3 971.0,661.7 984.3,658.3 997.7,655.0 1014.3,652.3 1029.3,651.0 1041.0,646.7 1051.0,640.7 1061.0,633.3 1071.0,626.0 1084.3,616.7 1094.3,609.3 1102.0,604.0 1112.0,600.0 1125.3,597.3 1145.3,597.3 1162.0,599.0 1175.3,601.7 1188.7,605.0 1202.0,608.3 1218.7,612.7 1235.3,620.0 1248.7,623.3 1262.0,626.0 1275.3,627.7 1288.7,630.0 1302.0,631.0 1315.3,632.3 1328.7,637.3 1342.0,643.3 1355.3,650.0 1368.7,658.3 1382.0,665.7 1392.0,666.7 1397.0,669.3" fill="none" stroke="#FF0000" stroke-width="1" stroke-dasharray="3 3"/>
<line x1="0" y1="792.5" x2="1606" y2="792.5" stroke="#C0C0C0" stroke-width="1" stroke-dasharray="3 3" stroke-dashoffset="2"/>
<line x1="0" y1="843.5" x2="1606" y2="843.5" stroke="#C0C0C0" stroke-width="1" stroke-dasharray="3 3" stroke-dashoffset="2"/>
<line x1="0" y1="904.5" x2="1606" y2="904.5" stroke="#C0C0C0" stroke-width="1" stroke-dasharray="3 3" stroke-dashoffset="2"/>
<polyline points="5.0,864.3 13.0,878.3 21.0,886.0 29.0,892.3 37.0,893.3 45.0,896.7 53.0,893.3 61.0,880.0 69.0,861.7 77.0,871.3 85.0,869.0 93.0,879.0 101.0,881.3 109.0,862.3 117.0,858.3 125.0,867.3 133.0,853.3 141.0,860.7 149.0,857.3 157.0,857.3 165.0,866.0 173.0,868.3 181.0,874.3 189.0,872.3 197.0,879.0 205.0,882.3 213.0,887.7 221.0,890.0 229.0,895.0 237.0,898.7 245.0,894.0 253.0,878.3 261.0,852.7 269.0,862.3 277.0,865.7 285.0,858.3 293.0,851.7 301.0,840.0 309.0,848.3 317.0,850.7 325.0,856.0 333.0,863.3 341.0,857.3 349.0,859.0 357.0,849.3 365.0,849.3 373.0,853.3 381.0,843.3 389.0,842.0 397.0,841.0 405.0,846.7 413.0,854.3 421.0,858.3 429.0,861.3 437.0,861.3 445.0,853.3 453.0,864.3 461.0,872.3 469.0,874.3 477.0,869.0 485.0,872.3 493.0,881.7 501.0,886.7 509.0,895.3 517.0,895.3 525.0,896.3 533.0,896.3 541.0,876.7 549.0,860.0 557.0,855.0 565.0,870.0 573.0,856.7 581.0,850.7 589.0,857.3 597.0,859.3 605.0,861.3 613.0,866.0 621.0,870.0 629.0,868.0 637.0,871.7 645.0,881.0 653.0,885.0 661.0,892.3 669.0,896.0 677.0,898.3 685.0,897.3 693.0,896.0 701.0,869.3 709.0,869.0 717.0,867.3 725.0,855.7 733.0,866.0 741.0,868.3 749.0,880.0 757.0,880.0 765.0,881.3 773.0,882.3 781.0,877.7 789.0,861.7 797.0,866.7 805.0,863.3 813.0,854.3 821.0,852.3 829.0,857.3 837.0,855.7 845.0,871.3 853.0,863.3 861.0,868.3 869.0,859.3 877.0,847.3 885.0,861.3 893.0,850.7 901.0,849.3 909.0,839.3 917.0,845.0 925.0,840.0 933.0,844.3 941.0,831.3 949.0,831.3 957.0,840.7 965.0,844.7 973.0,857.3 981.0,850.7 989.0,842.7 997.0,839.3 1005.0,839.3 1013.0,839.3 1021.0,835.7 1029.0,833.3 1037.0,816.0 1045.0,814.3 1053.0,813.3 1061.0,810.3 1069.0,818.3 1077.0,815.3 1085.0,830.3 1093.0,824.3 1101.0,816.7 1109.0,825.3 1117.0,827.3 1125.0,830.7 1133.0,835.3 1141.0,829.3 1149.0,825.3 1157.0,824.0 1165.0,823.0 1173.0,827.7 1181.0,833.3 1189.0,840.0 1197.0,836.3 1205.0,841.0 1213.0,841.0 1221.0,835.3 1229.0,840.0 1237.0,835.0 1245.0,831.0 1253.0,827.3 1261.0,825.3 1269.0,829.0 1277.0,843.0 1285.0,838.3 1293.0,845.3 1301.0,845.3 1309.0,847.3 1317.0,846.3 1325.0,869.0 1333.0,868.0 1341.0,871.0 1349.0,875.0 1357.0,862.7 1365.0,859.0 1373.0,862.3 1381.0,860.3 1389.0,859.0 1397.0,850.7" fill="none" stroke="#1E90FF" stroke-width="1" />
<rect x="0" y="29" width="1607" height="1" fill="#000"/>
<rect x="1606" y="29" width="1" height="554" fill="#000"/>
<rect x="0" y="582" width="1607" height="1" fill="#000"/>
<rect x="0" y="584" width="1607" height="1" fill="#000"/>
<rect x="1606" y="584" width="1" height="171" fill="#000"/>
<rect x="0" y="754" width="1607" height="1" fill="#000"/>
<rect x="0" y="756" width="1607" height="1" fill="#000"/>
<rect x="1606" y="756" width="1" height="175" fill="#000"/>
<rect x="0" y="930" width="1607" height="1" fill="#000"/>
<rect x="1607" y="51" width="2" height="1" fill="#000"/>
<rect x="1607" y="84" width="2" height="1" fill="#000"/>
<rect x="1607" y="117" width="2" height="1" fill="#000"/>
<rect x="1607" y="150" width="2" height="1" fill="#000"/>
<rect x="1607" y="183" width="2" height="1" fill="#000"/>
<rect x="1607" y="216" width="2" height="1" fill="#000"/>
<rect x="1607" y="249" width="2" height="1" fill="#000"/>
<rect x="1607" y="282" width="2" height="1" fill="#000"/>
<rect x="1607" y="315" width="2" height="1" fill="#000"/>
<rect x="1607" y="348" width="2" height="1" fill="#000"/>
<rect x="1607" y="480" width="2" height="1" fill="#000"/>
<rect x="1607" y="513" width="2" height="1" fill="#000"/>
<rect x="1607" y="546" width="2" height="1" fill="#000"/>
<rect x="1607" y="579" width="2" height="1" fill="#000"/>
<rect x="1607" y="381" width="2" height="1" fill="#000"/>
<rect x="1607" y="414" width="2" height="1" fill="#000"/>
<rect x="1607" y="447" width="2" height="1" fill="#000"/>
<rect x="61" y="931" width="1" height="3" fill="#000"/>
<rect x="125" y="931" width="1" height="3" fill="#000"/>
<rect x="189" y="931" width="1" height="3" fill="#000"/>
<rect x="253" y="931" width="1" height="3" fill="#000"/>
<rect x="317" y="931" width="1" height="3" fill="#000"/>
<rect x="381" y="931" width="1" height="3" fill="#000"/>
<rect x="445" y="931" width="1" height="3" fill="#000"/>
<rect x="509" y="931" width="1" height="3" fill="#000"/>
<rect x="573" y="931" width="1" height="3" fill="#000"/>
<rect x="637" y="931" width="1" height="3" fill="#000"/>
<rect x="701" y="931" width="1" height="3" fill="#000"/>
<rect x="765" y="931" width="1" height="3" fill="#000"/>
<rect x="829" y="931" width="1" height="3" fill="#000"/>
<rect x="893" y="931" width="1" height="3" fill="#000"/>
<rect x="957" y="931" width="1" height="3" fill="#000"/>
<rect x="1021" y="931" width="1" height="3" fill="#000"/>
<rect x="1085" y="931" width="1" height="3" fill="#000"/>
<rect x="1149" y="931" width="1" height="3" fill="#000"/>
<rect x="1213" y="931" width="1" height="3" fill="#000"/>
<rect x="1277" y="931" width="1" height="3" fill="#000"/>
<rect x="1341" y="931" width="1" height="3" fill="#000"/>
</g>
<line x1="1266" y1="339" x2="1342.1" y2="436.5" stroke="#FF0000" stroke-width="3.3" shape-rendering="crispEdges"/>
<polygon points="1349.5,446.0 1338.2,439.6 1346.1,433.5" fill="#FF0000" shape-rendering="crispEdges"/>
<line x1="1349.5" y1="446" x2="1394.5" y2="411.8" stroke="#FF0000" stroke-width="3.3" shape-rendering="crispEdges"/>
<polygon points="1404.0,404.5 1397.5,415.7 1391.4,407.8" fill="#FF0000" shape-rendering="crispEdges"/>
<line x1="1404" y1="404.5" x2="1474.1" y2="445.5" stroke="#FF0000" stroke-width="3.3" shape-rendering="crispEdges"/>
<polygon points="1484.5,451.6 1471.6,449.9 1476.7,441.2" fill="#FF0000" shape-rendering="crispEdges"/>
<g font-family="'Liberation Sans', sans-serif" font-size="10px">
<text transform="translate(1612 54.5) scale(0.93 1)" fill="#000" xml:space="preserve" >23336.0</text>
<text transform="translate(1612 87.5) scale(0.93 1)" fill="#000" xml:space="preserve" >22860.0</text>
<text transform="translate(1612 120.5) scale(0.93 1)" fill="#000" xml:space="preserve" >22384.0</text>
<text transform="translate(1612 153.5) scale(0.93 1)" fill="#000" xml:space="preserve" >21908.0</text>
<text transform="translate(1612 186.5) scale(0.93 1)" fill="#000" xml:space="preserve" >21432.0</text>
<text transform="translate(1612 219.5) scale(0.93 1)" fill="#000" xml:space="preserve" >20956.0</text>
<text transform="translate(1612 252.5) scale(0.93 1)" fill="#000" xml:space="preserve" >20480.0</text>
<text transform="translate(1612 285.5) scale(0.93 1)" fill="#000" xml:space="preserve" >20004.0</text>
<text transform="translate(1612 318.5) scale(0.93 1)" fill="#000" xml:space="preserve" >19514.0</text>
<text transform="translate(1612 351.5) scale(0.93 1)" fill="#000" xml:space="preserve" >19038.0</text>
<text transform="translate(1612 483.5) scale(0.93 1)" fill="#000" xml:space="preserve" >17134.0</text>
<text transform="translate(1612 516.5) scale(0.93 1)" fill="#000" xml:space="preserve" >16658.0</text>
<text transform="translate(1612 549.5) scale(0.93 1)" fill="#000" xml:space="preserve" >16182.0</text>
<text transform="translate(1612 583.2) scale(0.93 1)" fill="#000" xml:space="preserve" >15706.0</text>
<text transform="translate(1610 595) scale(0.93 1)" fill="#000" xml:space="preserve" >574.25</text>
<text transform="translate(1610 654) scale(0.93 1)" fill="#000" xml:space="preserve" >0.00</text>
<text transform="translate(1610 751) scale(0.93 1)" fill="#000" xml:space="preserve" >-929.3</text>
<text transform="translate(1610 767) scale(0.93 1)" fill="#000" xml:space="preserve" >100</text>
<text transform="translate(1610 796) scale(0.93 1)" fill="#000" xml:space="preserve" >80</text>
<text transform="translate(1610 847) scale(0.93 1)" fill="#000" xml:space="preserve" >50</text>
<text transform="translate(1610 908) scale(0.93 1)" fill="#000" xml:space="preserve" >15</text>
<text transform="translate(1610 927) scale(0.93 1)" fill="#000" xml:space="preserve" >0</text>
<text transform="translate(-4 943) scale(0.93 1)" fill="#000" xml:space="preserve" >21 Feb 2020</text>
<text transform="translate(60 943) scale(0.93 1)" fill="#000" xml:space="preserve" >24 Feb 23:30</text>
<text transform="translate(124 943) scale(0.93 1)" fill="#000" xml:space="preserve" >26 Feb 04:00</text>
<text transform="translate(188 943) scale(0.93 1)" fill="#000" xml:space="preserve" >27 Feb 14:55</text>
<text transform="translate(252 943) scale(0.93 1)" fill="#000" xml:space="preserve" >1 Mar 23:30</text>
<text transform="translate(316 943) scale(0.93 1)" fill="#000" xml:space="preserve" >3 Mar 04:00</text>
<text transform="translate(380 943) scale(0.93 1)" fill="#000" xml:space="preserve" >4 Mar 14:55</text>
<text transform="translate(444 943) scale(0.93 1)" fill="#000" xml:space="preserve" >5 Mar 23:30</text>
<text transform="translate(508 943) scale(0.93 1)" fill="#000" xml:space="preserve" >9 Mar 04:00</text>
<text transform="translate(572 943) scale(0.93 1)" fill="#000" xml:space="preserve" >10 Mar 14:55</text>
<text transform="translate(636 943) scale(0.93 1)" fill="#000" xml:space="preserve" >11 Mar 23:30</text>
<text transform="translate(700 943) scale(0.93 1)" fill="#000" xml:space="preserve" >13 Mar 04:00</text>
<text transform="translate(764 943) scale(0.93 1)" fill="#000" xml:space="preserve" >16 Mar 14:55</text>
<text transform="translate(828 943) scale(0.93 1)" fill="#000" xml:space="preserve" >17 Mar 23:30</text>
<text transform="translate(892 943) scale(0.93 1)" fill="#000" xml:space="preserve" >19 Mar 04:00</text>
<text transform="translate(956 943) scale(0.93 1)" fill="#000" xml:space="preserve" >20 Mar 14:55</text>
<text transform="translate(1020 943) scale(0.93 1)" fill="#000" xml:space="preserve" >23 Mar 23:30</text>
<text transform="translate(1084 943) scale(0.93 1)" fill="#000" xml:space="preserve" >25 Mar 04:00</text>
<text transform="translate(1148 943) scale(0.93 1)" fill="#000" xml:space="preserve" >26 Mar 14:55</text>
<text transform="translate(1212 943) scale(0.93 1)" fill="#000" xml:space="preserve" >29 Mar 23:30</text>
<text transform="translate(1276 943) scale(0.93 1)" fill="#000" xml:space="preserve" >31 Mar 04:00</text>
<text transform="translate(1340 943) scale(0.93 1)" fill="#000" xml:space="preserve" >1 Apr 14:55</text>
<text transform="translate(12 40.6) scale(0.93 1)" fill="#000" xml:space="preserve" >JPN225-,H4  17892.5 18117.5 17852.5 18077.5</text>
<polygon points="0,40 7,40 3.5,36" fill="#000"/>
<text transform="translate(1 597) scale(0.93 1)" fill="#000" xml:space="preserve" >MACD(12,26,9) -190.80 -177.22</text>
<text transform="translate(1 769) scale(0.93 1)" fill="#000" xml:space="preserve" >RSI(14) 46.1782</text>
</g>
<rect x="1608" y="348" width="41" height="11" fill="#FF0000" shape-rendering="crispEdges"/>
<text transform="translate(1612 357) scale(0.93 1)" font-family="'Liberation Sans', sans-serif" font-size="10px" fill="#fff">18958.0</text>
<rect x="1608" y="376" width="41" height="11" fill="#FF0000" shape-rendering="crispEdges"/>
<text transform="translate(1612 385) scale(0.93 1)" font-family="'Liberation Sans', sans-serif" font-size="10px" fill="#fff">18553.5</text>
<rect x="1608" y="395" width="41" height="11" fill="#32CD32" shape-rendering="crispEdges"/>
<text transform="translate(1612 404) scale(0.93 1)" font-family="'Liberation Sans', sans-serif" font-size="10px" fill="#fff">18279.0</text>
<rect x="1608" y="410" width="41" height="11" fill="#000000" shape-rendering="crispEdges"/>
<text transform="translate(1612 419) scale(0.93 1)" font-family="'Liberation Sans', sans-serif" font-size="10px" fill="#fff">18077.5</text>
<rect x="1608" y="442" width="41" height="11" fill="#0000FF" shape-rendering="crispEdges"/>
<text transform="translate(1612 451) scale(0.93 1)" font-family="'Liberation Sans', sans-serif" font-size="10px" fill="#fff">17600.0</text>
<rect x="1608" y="468" width="41" height="11" fill="#0000FF" shape-rendering="crispEdges"/>
<text transform="translate(1612 477) scale(0.93 1)" font-family="'Liberation Sans', sans-serif" font-size="10px" fill="#fff">17224.3</text>
<text x="1389" y="360" font-family="'Liberation Serif', 'Noto Serif CJK SC', 'Noto Sans CJK SC', serif" font-weight="700" font-size="32px" fill="#00142a">多空转折点</text>
<text x="1387.6" y="358.6" font-family="'Liberation Serif', 'Noto Serif CJK SC', 'Noto Sans CJK SC', serif" font-weight="700" font-size="32px" fill="#00FF00">多空转折点</text>
<rect x="1494" y="401" width="11" height="1" fill="#FF0000" shape-rendering="crispEdges"/>
<rect x="1501.5" y="399.5" width="2" height="3" fill="#fff" stroke="#FF0000" shape-rendering="crispEdges"/>
<rect x="1504.5" y="389.5" width="73" height="24" fill="#fff" stroke="#FF0000" stroke-width="1" shape-rendering="crispEdges"/>
<text x="1506.6" y="410" font-family="'Liberation Sans', sans-serif" font-size="23.4px" fill="#FF0000" textLength="68.6" lengthAdjust="spacingAndGlyphs">18279.0</text>
</svg>
<div style="position:absolute;left:1652px;top:27px;width:1px;height:923px;background:#e6e6e6"></div>
<div id="tb"><svg width="1653" height="27" viewBox="0 0 1653 27" style="position:absolute;left:0;top:0">
<defs>
<pattern id="chk" width="2" height="2" patternUnits="userSpaceOnUse"><rect width="2" height="2" fill="#fff"/><rect width="1" height="1" fill="#ececec"/><rect x="1" y="1" width="1" height="1" fill="#ececec"/></pattern>
<linearGradient id="gold" x1="0" y1="0" x2="0.6" y2="1"><stop offset="0" stop-color="#f2c41c"/><stop offset="0.45" stop-color="#ffe450"/><stop offset="1" stop-color="#e2a212"/></linearGradient>
<linearGradient id="grn" x1="0" y1="0" x2="1" y2="0"><stop offset="0" stop-color="#30d030"/><stop offset="0.5" stop-color="#70f070"/><stop offset="1" stop-color="#20c020"/></linearGradient>
<radialGradient id="lens" cx="0.4" cy="0.35" r="0.7"><stop offset="0" stop-color="#ffffff"/><stop offset="1" stop-color="#b8e4f8"/></radialGradient>
<linearGradient id="cloud" x1="0" y1="0" x2="0" y2="1"><stop offset="0" stop-color="#ffffff"/><stop offset="1" stop-color="#b8c8e0"/></linearGradient>
<linearGradient id="bub" x1="0" y1="0" x2="0" y2="1"><stop offset="0" stop-color="#ffffff"/><stop offset="1" stop-color="#c8ccd8"/></linearGradient>
</defs>
<text x="-5" y="16.6" font-family="'Liberation Sans','Noto Sans CJK SC',sans-serif" font-size="12.5px" fill="#000">新订单</text>
<path d="M49.4,5.9 L59.6,12.7 L59.9,15.3 L51.6,21 L44,14.6 L48.1,9.8 Z" fill="#a86a08"/>
<path d="M49.9,7.3 L58.5,13 L51.4,18.3 L45.7,14 L48.9,10.2 Z" fill="url(#gold)"/>
<path d="M45.4,15 L51.5,19.7" stroke="#ffe27a" stroke-width="1"/>
<path d="M52.2,19.5 L59,14.7 L59.2,15.4 L52.3,20.3 Z" fill="#efe2a8"/>
<path d="M74,8.2 L76.4,5.2 L83.6,5.2 L85,6.2 L85,14 L77.4,14 L74,13 Z" fill="#1e96f6"/>
<path d="M74,8.2 L77.4,6.6 L77.4,14 L74,13 Z" fill="#0f7ee0"/>
<path d="M76.6,5.6 L77.6,6.8 L77.6,13.6" stroke="#c8e8ff" stroke-width="0.7" fill="none"/>
<rect x="79" y="9.2" width="5" height="1.7" fill="#e8f6ff"/><rect x="78.6" y="11.6" width="5.8" height="0.8" fill="#8cd0ff"/>
<path d="M74.6,20.4 C71.6,20.4 71.4,16.4 74.6,15.8 C74.8,13.6 77.8,13.4 78.6,15 C79.6,12.6 83.6,12.8 84,15.4 C85.2,14.2 87.6,15 87.2,16.8 C88.8,17.6 88.4,20.4 86,20.4 Z" fill="url(#cloud)" stroke="#3c5ca4" stroke-width="1.2"/>
<defs><radialGradient id="sgn" cx="0.5" cy="0.5" r="0.5"><stop offset="0" stop-color="#d8f0d8" stop-opacity="0.9"/><stop offset="0.6" stop-color="#90cc98" stop-opacity="0.85"/><stop offset="1" stop-color="#3aa048" stop-opacity="0.95"/></radialGradient><radialGradient id="stp" cx="0.4" cy="0.35" r="0.7"><stop offset="0" stop-color="#ff5030"/><stop offset="1" stop-color="#c41000"/></radialGradient><linearGradient id="ylw" x1="0" y1="0" x2="1" y2="0.6"><stop offset="0" stop-color="#f6d040"/><stop offset="0.5" stop-color="#fff080"/><stop offset="1" stop-color="#eec020"/></linearGradient></defs>
<circle cx="108" cy="12.85" r="7.6" fill="#f4f8f4" opacity="0.7"/>
<path d="M108,12.85 L108,20.65 A7.8,7.8 0 0 0 113.5,7.35 Z" fill="url(#sgn)"/>
<g fill="none"><circle cx="108" cy="12.85" r="7.2" stroke="#4a74d8" stroke-width="1.1" opacity="0.75" stroke-dasharray="23 22.3" stroke-dashoffset="-11.3"/><circle cx="108" cy="12.85" r="4.6" stroke="#4068d0" stroke-width="1.2" opacity="0.7" stroke-dasharray="14.6 14.3" stroke-dashoffset="-7.2"/>
<circle cx="108" cy="12.85" r="5.9" stroke="#f0f4f0" stroke-width="1" opacity="0.65"/><circle cx="108" cy="12.85" r="3.3" stroke="#f0f4f0" stroke-width="0.9" opacity="0.6"/><path d="M108,5.6 A7.2,7.2 0 0 1 115.2,12.85" stroke="#a8c8c0" stroke-width="1" opacity="0.7"/></g>
<rect x="108" y="13" width="1.4" height="7.8" fill="#1ea028"/><circle cx="107.8" cy="12.6" r="1.9" fill="#2858d0"/>
<path d="M127.4,12.4 L142.6,11.6 L136.4,20.9 L134.6,20.6 Z" fill="url(#ylw)" stroke="#cc9c10" stroke-width="0.7"/>
<ellipse cx="135" cy="10.2" rx="7.9" ry="2.5" fill="#4aa4e0" stroke="#1f7cb4" stroke-width="0.7" transform="rotate(-4 135 10.2)"/><path d="M131.2,9.6 C131.4,3.8 138.6,3.6 139.2,9 C137,10.8 133,11 131.2,9.6 Z" fill="#6cbcf0" stroke="#1f7cb4" stroke-width="0.6"/>
<circle cx="139.55" cy="16.6" r="4.2" fill="url(#stp)"/><rect x="138" y="15" width="3.1" height="3.2" fill="#fff"/>
<text x="148.6" y="16.6" font-family="'Liberation Sans','Noto Sans CJK SC',sans-serif" font-size="12px" fill="#000" textLength="47" lengthAdjust="spacing">自动交易</text>
<rect x="203" y="0" width="1" height="25" fill="#a0a0a0" shape-rendering="crispEdges"/><rect x="204" y="0" width="1" height="25" fill="#fff" shape-rendering="crispEdges"/>
<rect x="207" y="3" width="3" height="1" fill="#a6a6a6" shape-rendering="crispEdges"/>
<rect x="207" y="5" width="3" height="1" fill="#a6a6a6" shape-rendering="crispEdges"/>
<rect x="207" y="7" width="3" height="1" fill="#a6a6a6" shape-rendering="crispEdges"/>
<rect x="207" y="9" width="3" height="1" fill="#a6a6a6" shape-rendering="crispEdges"/>
<rect x="207" y="11" width="3" height="1" fill="#a6a6a6" shape-rendering="crispEdges"/>
<rect x="207" y="13" width="3" height="1" fill="#a6a6a6" shape-rendering="crispEdges"/>
<rect x="207" y="15" width="3" height="1" fill="#a6a6a6" shape-rendering="crispEdges"/>
<rect x="207" y="17" width="3" height="1" fill="#a6a6a6" shape-rendering="crispEdges"/>
<rect x="207" y="19" width="3" height="1" fill="#a6a6a6" shape-rendering="crispEdges"/>
<rect x="207" y="21" width="3" height="1" fill="#a6a6a6" shape-rendering="crispEdges"/>
<g fill="#505050" shape-rendering="crispEdges"><rect x="221" y="8" width="1" height="13"/><rect x="219" y="18" width="12" height="1"/></g>
<path d="M219.4,9.6 L221.5,6.8 L223.6,9.6 Z" fill="#505050"/><path d="M230.4,16.4 L233.2,18.5 L230.4,20.6 Z" fill="#505050"/>
<g fill="#008000" shape-rendering="crispEdges"><rect x="227" y="8" width="1.2" height="9"/><rect x="228" y="9" width="2.4" height="1.2"/><rect x="225" y="15" width="2.4" height="1.2"/></g>
<rect x="241" y="1" width="25" height="22" fill="url(#chk)" shape-rendering="crispEdges"/>
<rect x="241" y="1" width="25" height="1" fill="#a0a0a0" shape-rendering="crispEdges"/><rect x="241" y="1" width="1" height="22" fill="#a0a0a0" shape-rendering="crispEdges"/>
<rect x="265" y="2" width="1" height="21" fill="#fff" shape-rendering="crispEdges"/><rect x="242" y="22" width="24" height="1" fill="#fff" shape-rendering="crispEdges"/>
<g fill="#505050" shape-rendering="crispEdges"><rect x="249" y="8" width="1" height="13"/><rect x="247" y="18" width="12" height="1"/></g>
<path d="M247.4,9.6 L249.5,6.8 L251.6,9.6 Z" fill="#505050"/><path d="M258.4,16.4 L261.2,18.5 L258.4,20.6 Z" fill="#505050"/>
<rect x="255.1" y="5" width="1.2" height="12" fill="#008000"/><rect x="253.2" y="7.4" width="5" height="7.6" fill="url(#grn)" stroke="#008000" stroke-width="1.2"/>
<g fill="#505050" shape-rendering="crispEdges"><rect x="277" y="8" width="1" height="13"/><rect x="275" y="18" width="12" height="1"/></g>
<path d="M275.4,9.6 L277.5,6.8 L279.6,9.6 Z" fill="#505050"/><path d="M286.4,16.4 L289.2,18.5 L286.4,20.6 Z" fill="#505050"/>
<path d="M276,15.8 C279,14 280.5,9.6 282.4,10.2 C284.4,10.8 285.6,13.6 288.2,14.2" stroke="#108010" stroke-width="1.3" fill="none"/>
<rect x="298" y="2" width="1" height="21" fill="#a0a0a0" shape-rendering="crispEdges"/>
<path d="M316.8,15.2 L321.7,20.1" stroke="#a87810" stroke-width="3.2" stroke-linecap="round"/><path d="M316.8,15 L321.5,19.8" stroke="#f0d040" stroke-width="1.6" stroke-linecap="round"/>
<circle cx="312.8" cy="10.9" r="5.6" fill="url(#lens)" stroke="#2a7cd0" stroke-width="1.3"/>
<rect x="309.6" y="10" width="6.4" height="1.9" fill="#3a8cc0"/>
<rect x="311.85" y="7.7" width="1.9" height="6.4" fill="#3a8cc0"/>
<path d="M345,15.2 L349.9,20.1" stroke="#a87810" stroke-width="3.2" stroke-linecap="round"/><path d="M345,15 L349.7,19.8" stroke="#f0d040" stroke-width="1.6" stroke-linecap="round"/>
<circle cx="341" cy="10.9" r="5.6" fill="url(#lens)" stroke="#2a7cd0" stroke-width="1.3"/>
<rect x="337.8" y="10" width="6.4" height="1.9" fill="#3a8cc0"/>
<rect x="363" y="5" width="8" height="8" fill="#30a018" shape-rendering="crispEdges"/><rect x="364" y="8.4" width="6" height="3.8" fill="#fff" shape-rendering="crispEdges"/><rect x="364" y="6" width="1" height="1" fill="#dfe8ff" shape-rendering="crispEdges"/><rect x="365" y="9.6" width="4" height="1" fill="#a8dca0" shape-rendering="crispEdges"/>
<rect x="371" y="5" width="8" height="8" fill="#2050d0" shape-rendering="crispEdges"/><rect x="372" y="8.4" width="6" height="3.8" fill="#fff" shape-rendering="crispEdges"/><rect x="372" y="6" width="1" height="1" fill="#dfe8ff" shape-rendering="crispEdges"/><rect x="373" y="9.6" width="4" height="1" fill="#a8b8f0" shape-rendering="crispEdges"/>
<rect x="363" y="13" width="8" height="8" fill="#2050d0" shape-rendering="crispEdges"/><rect x="364" y="16.4" width="6" height="3.8" fill="#fff" shape-rendering="crispEdges"/><rect x="364" y="14" width="1" height="1" fill="#dfe8ff" shape-rendering="crispEdges"/><rect x="365" y="17.6" width="4" height="1" fill="#a8b8f0" shape-rendering="crispEdges"/>
<rect x="371" y="13" width="8" height="8" fill="#30a018" shape-rendering="crispEdges"/><rect x="372" y="16.4" width="6" height="3.8" fill="#fff" shape-rendering="crispEdges"/><rect x="372" y="14" width="1" height="1" fill="#dfe8ff" shape-rendering="crispEdges"/><rect x="373" y="17.6" width="4" height="1" fill="#a8dca0" shape-rendering="crispEdges"/>
<rect x="388" y="2" width="1" height="21" fill="#a0a0a0" shape-rendering="crispEdges"/>
<rect x="393" y="1" width="25" height="22" fill="url(#chk)" shape-rendering="crispEdges"/>
<rect x="393" y="1" width="25" height="1" fill="#a0a0a0" shape-rendering="crispEdges"/><rect x="393" y="1" width="1" height="22" fill="#a0a0a0" shape-rendering="crispEdges"/>
<rect x="417" y="2" width="1" height="21" fill="#fff" shape-rendering="crispEdges"/><rect x="394" y="22" width="24" height="1" fill="#fff" shape-rendering="crispEdges"/>
<g fill="#505050" shape-rendering="crispEdges"><rect x="401" y="8" width="1" height="13"/><rect x="399" y="18" width="12" height="1"/></g>
<path d="M399.4,9.6 L401.5,6.8 L403.6,9.6 Z" fill="#505050"/><path d="M410.4,16.4 L413.2,18.5 L410.4,20.6 Z" fill="#505050"/>
<path d="M406.2,9 L406.2,16 L410.4,12.5 Z" fill="#60e060" stroke="#109010" stroke-width="1"/>
<rect x="421" y="1" width="25" height="22" fill="url(#chk)" shape-rendering="crispEdges"/>
<rect x="421" y="1" width="25" height="1" fill="#a0a0a0" shape-rendering="crispEdges"/><rect x="421" y="1" width="1" height="22" fill="#a0a0a0" shape-rendering="crispEdges"/>
<rect x="445" y="2" width="1" height="21" fill="#fff" shape-rendering="crispEdges"/><rect x="422" y="22" width="24" height="1" fill="#fff" shape-rendering="crispEdges"/>
<g fill="#505050" shape-rendering="crispEdges"><rect x="429" y="8" width="1" height="13"/><rect x="427" y="18" width="12" height="1"/></g>
<path d="M427.4,9.6 L429.5,6.8 L431.6,9.6 Z" fill="#505050"/><path d="M438.4,16.4 L441.2,18.5 L438.4,20.6 Z" fill="#505050"/>
<rect x="435" y="7" width="1.4" height="9.6" fill="#1070b0"/><path d="M437,12.4 L440,10 L439.4,12 L441.4,12 L441.4,13 L439.4,13 L440,15 Z" fill="#e04800"/>
<rect x="450" y="2" width="1" height="21" fill="#a0a0a0" shape-rendering="crispEdges"/>
<path d="M460.5,6 L468.6,6 L471.6,9 L471.6,18.2 L460.5,18.2 Z" fill="#fafafa" stroke="#909090" stroke-width="1"/><path d="M468.6,6 L468.6,9 L471.6,9" fill="#e0e0e0" stroke="#909090" stroke-width="0.8"/><path d="M464.4,8.6 C462.6,9 463.6,12 462.8,12.4 C463.6,12.8 462.6,16 464.4,16.2" stroke="#605040" stroke-width="1" fill="none"/>
<path d="M468.2,11 L472,11 L472,14.8 L475.8,14.8 L475.8,18.6 L472,18.6 L472,22.4 L468.2,22.4 L468.2,18.6 L464.4,18.6 L464.4,14.8 L468.2,14.8 Z" fill="url(#pls)" stroke="#0c7c0c" stroke-width="0.9"/>
<path d="M481.5,12 L487.5,12 L484.5,15.2 Z" fill="#000"/>
<defs><radialGradient id="clk" cx="0.45" cy="0.4" r="0.6"><stop offset="0" stop-color="#ffffff"/><stop offset="1" stop-color="#cfd8e4"/></radialGradient><linearGradient id="ring" x1="0" y1="0" x2="0.4" y2="1"><stop offset="0" stop-color="#3a98f4"/><stop offset="1" stop-color="#0a54b4"/></linearGradient><linearGradient id="pls" x1="0" y1="0" x2="1" y2="1"><stop offset="0" stop-color="#8cf48c"/><stop offset="0.5" stop-color="#30d830"/><stop offset="1" stop-color="#18b018"/></linearGradient></defs>
<circle cx="506.1" cy="13" r="6.6" fill="url(#clk)" stroke="url(#ring)" stroke-width="2.2"/><circle cx="506.1" cy="13" r="7.7" fill="none" stroke="#0a4a9c" stroke-width="0.5"/>
<circle cx="506.10" cy="8.40" r="0.45" fill="#8c94a0"/>
<circle cx="508.40" cy="9.02" r="0.45" fill="#8c94a0"/>
<circle cx="510.08" cy="10.70" r="0.45" fill="#8c94a0"/>
<circle cx="510.70" cy="13.00" r="0.45" fill="#8c94a0"/>
<circle cx="510.08" cy="15.30" r="0.45" fill="#8c94a0"/>
<circle cx="508.40" cy="16.98" r="0.45" fill="#8c94a0"/>
<circle cx="506.10" cy="17.60" r="0.45" fill="#8c94a0"/>
<circle cx="503.80" cy="16.98" r="0.45" fill="#8c94a0"/>
<circle cx="502.12" cy="15.30" r="0.45" fill="#8c94a0"/>
<circle cx="501.50" cy="13.00" r="0.45" fill="#8c94a0"/>
<circle cx="502.12" cy="10.70" r="0.45" fill="#8c94a0"/>
<circle cx="503.80" cy="9.02" r="0.45" fill="#8c94a0"/>
<path d="M505.4,8.8 L505.8,13.2 L508.8,14" stroke="#202020" stroke-width="1.1" fill="none"/><circle cx="506.2" cy="16.6" r="0.7" fill="#60a0f0"/>
<path d="M520.5,12 L526.5,12 L523.5,15.2 Z" fill="#000"/>
<rect x="537.5" y="6.5" width="15" height="13.4" fill="#fff" stroke="#2f68b8" stroke-width="1.1"/><rect x="537" y="6" width="16" height="2.6" fill="#3a78cc"/><rect x="538" y="6.6" width="6" height="0.8" fill="#9cc4f4"/><rect x="538" y="13.4" width="14" height="1" fill="#3a78c8"/>
<path d="M539.6,12.4 L541.6,12.4 L543.6,10.6 L545.6,11.6 L547.6,11.4 L550.4,10.4" stroke="#a02000" stroke-width="1.3" fill="none"/><path d="M540,17.6 L542,17 L544,17.8 L546.6,15.6 L548,16 L550.2,17.8" stroke="#109020" stroke-width="1.2" fill="none"/>
<path d="M559.5,12 L565.5,12 L562.5,15.2 Z" fill="#000"/>
<rect x="571" y="0" width="1" height="25" fill="#a0a0a0" shape-rendering="crispEdges"/><rect x="572" y="0" width="1" height="25" fill="#fff" shape-rendering="crispEdges"/>
<rect x="575" y="3" width="3" height="1" fill="#a6a6a6" shape-rendering="crispEdges"/>
<rect x="575" y="5" width="3" height="1" fill="#a6a6a6" shape-rendering="crispEdges"/>
<rect x="575" y="7" width="3" height="1" fill="#a6a6a6" shape-rendering="crispEdges"/>
<rect x="575" y="9" width="3" height="1" fill="#a6a6a6" shape-rendering="crispEdges"/>
<rect x="575" y="11" width="3" height="1" fill="#a6a6a6" shape-rendering="crispEdges"/>
<rect x="575" y="13" width="3" height="1" fill="#a6a6a6" shape-rendering="crispEdges"/>
<rect x="575" y="15" width="3" height="1" fill="#a6a6a6" shape-rendering="crispEdges"/>
<rect x="575" y="17" width="3" height="1" fill="#a6a6a6" shape-rendering="crispEdges"/>
<rect x="575" y="19" width="3" height="1" fill="#a6a6a6" shape-rendering="crispEdges"/>
<rect x="575" y="21" width="3" height="1" fill="#a6a6a6" shape-rendering="crispEdges"/>
<rect x="581" y="1" width="25" height="22" fill="url(#chk)" shape-rendering="crispEdges"/>
<rect x="581" y="1" width="25" height="1" fill="#a0a0a0" shape-rendering="crispEdges"/><rect x="581" y="1" width="1" height="22" fill="#a0a0a0" shape-rendering="crispEdges"/>
<rect x="605" y="2" width="1" height="21" fill="#fff" shape-rendering="crispEdges"/><rect x="582" y="22" width="24" height="1" fill="#fff" shape-rendering="crispEdges"/>
<path d="M589.2,5.8 L589.2,17 L592,14.6 L594.6,20 L596.4,19.2 L593.8,14 L597.2,13.6 Z" fill="#505050"/>
<g fill="#505050" shape-rendering="crispEdges"><rect x="614" y="13" width="6.4" height="1.4"/><rect x="622.6" y="13" width="6.4" height="1.4"/><rect x="620.8" y="6" width="1.4" height="6.4"/><rect x="620.8" y="15" width="1.4" height="6.2"/><rect x="621" y="13.2" width="1" height="1"/></g>
<rect x="638" y="2" width="1" height="21" fill="#a0a0a0" shape-rendering="crispEdges"/>
<rect x="654.8" y="7" width="1.4" height="13" fill="#505050"/>
<rect x="678" y="12.8" width="12" height="1.4" fill="#505050"/>
<path d="M705.8,19.6 L718,7.6" stroke="#505050" stroke-width="1.3"/>
<g stroke="#505050" stroke-width="1" fill="none"><path d="M732,14.6 L745.4,6.6"/><path d="M733,18.6 L746.4,10.6"/><path d="M734.6,19.8 L745.4,13"/><path d="M734,19 L736,11.6 L738.6,16 L740.4,9.4 L742.6,14 L744,5.4 L745,11.6"/></g>
<text x="742.6" y="21.6" font-family="'Liberation Sans',sans-serif" font-weight="bold" font-size="6.4px" fill="#404040">E</text>
<line x1="761" y1="6.5" x2="774.6" y2="6.5" stroke="#505050" stroke-width="1" stroke-dasharray="1 1"/>
<line x1="761" y1="9.5" x2="774.6" y2="9.5" stroke="#505050" stroke-width="1" stroke-dasharray="1 1"/>
<line x1="761" y1="13.5" x2="774.6" y2="13.5" stroke="#505050" stroke-width="1" stroke-dasharray="1 1"/>
<line x1="761" y1="17.5" x2="770" y2="17.5" stroke="#505050" stroke-width="1" stroke-dasharray="1 1"/>
<text x="770.8" y="21.6" font-family="'Liberation Sans',sans-serif" font-weight="bold" font-size="6.4px" fill="#404040">F</text>
<text x="791.6" y="17.8" font-family="'Liberation Sans',sans-serif" font-size="11.6px" fill="#505050" stroke="#505050" stroke-width="0.3">A</text>
<rect x="818.5" y="7.5" width="11.6" height="12" fill="none" stroke="#505050" stroke-width="1" stroke-dasharray="1 1"/><rect x="817.4" y="6.4" width="2" height="1.4" fill="#505050"/>
<text x="820.2" y="17.8" font-family="'Liberation Sans',sans-serif" font-size="10.6px" fill="#505050" stroke="#505050" stroke-width="0.3">T</text>
<path d="M848.4,7 L851.8,10 L848.4,11.6 L845,10 Z" fill="#505050"/><path d="M855.8,15 L859.2,16.6 L855.8,19.8 L852.4,16.6 Z" fill="#505050"/><path d="M847.6,14.8 L849.8,16.6 L854.4,11.4" stroke="#505050" stroke-width="1.3" fill="none"/>
<path d="M865.5,12 L871.5,12 L868.5,15.2 Z" fill="#000"/>
<rect x="877" y="0" width="1" height="25" fill="#a0a0a0" shape-rendering="crispEdges"/><rect x="878" y="0" width="1" height="25" fill="#fff" shape-rendering="crispEdges"/>
<rect x="881" y="3" width="3" height="1" fill="#a6a6a6" shape-rendering="crispEdges"/>
<rect x="881" y="5" width="3" height="1" fill="#a6a6a6" shape-rendering="crispEdges"/>
<rect x="881" y="7" width="3" height="1" fill="#a6a6a6" shape-rendering="crispEdges"/>
<rect x="881" y="9" width="3" height="1" fill="#a6a6a6" shape-rendering="crispEdges"/>
<rect x="881" y="11" width="3" height="1" fill="#a6a6a6" shape-rendering="crispEdges"/>
<rect x="881" y="13" width="3" height="1" fill="#a6a6a6" shape-rendering="crispEdges"/>
<rect x="881" y="15" width="3" height="1" fill="#a6a6a6" shape-rendering="crispEdges"/>
<rect x="881" y="17" width="3" height="1" fill="#a6a6a6" shape-rendering="crispEdges"/>
<rect x="881" y="19" width="3" height="1" fill="#a6a6a6" shape-rendering="crispEdges"/>
<rect x="881" y="21" width="3" height="1" fill="#a6a6a6" shape-rendering="crispEdges"/>
<rect x="1027" y="1" width="26" height="22" fill="url(#chk)" shape-rendering="crispEdges"/>
<rect x="1027" y="1" width="26" height="1" fill="#a0a0a0" shape-rendering="crispEdges"/><rect x="1027" y="1" width="1" height="22" fill="#a0a0a0" shape-rendering="crispEdges"/>
<rect x="1052" y="2" width="1" height="21" fill="#fff" shape-rendering="crispEdges"/><rect x="1028" y="22" width="25" height="1" fill="#fff" shape-rendering="crispEdges"/>
<text x="899" y="16.9" text-anchor="middle" font-family="'Liberation Sans',sans-serif" font-size="9.6px" fill="#404040">M1</text>
<text x="927" y="16.9" text-anchor="middle" font-family="'Liberation Sans',sans-serif" font-size="9.6px" fill="#404040">M5</text>
<text x="955.3" y="16.9" text-anchor="middle" font-family="'Liberation Sans',sans-serif" font-size="9.6px" fill="#404040">M15</text>
<text x="983.3" y="16.9" text-anchor="middle" font-family="'Liberation Sans',sans-serif" font-size="9.6px" fill="#404040">M30</text>
<text x="1011.5" y="16.9" text-anchor="middle" font-family="'Liberation Sans',sans-serif" font-size="9.6px" fill="#404040">H1</text>
<text x="1039" y="16.9" text-anchor="middle" font-family="'Liberation Sans',sans-serif" font-size="9.6px" fill="#404040">H4</text>
<text x="1067.5" y="16.9" text-anchor="middle" font-family="'Liberation Sans',sans-serif" font-size="9.6px" fill="#404040">D1</text>
<text x="1096.3" y="16.9" text-anchor="middle" font-family="'Liberation Sans',sans-serif" font-size="9.6px" fill="#404040">W1</text>
<text x="1123" y="16.9" text-anchor="middle" font-family="'Liberation Sans',sans-serif" font-size="9.6px" fill="#404040">MN</text>
<rect x="1138" y="0" width="1" height="25" fill="#a0a0a0" shape-rendering="crispEdges"/>
<circle cx="1608.6" cy="9.8" r="3.9" fill="#f4f8ff" stroke="#2a5cd0" stroke-width="1.4"/><path d="M1605.6,13 L1601,17.8" stroke="#2a5cd0" stroke-width="2.6" stroke-linecap="round"/>
<path d="M1641.8,14.6 C1649,14.6 1649,5.4 1641.4,5.4 C1633.6,5.4 1633.4,14.4 1640,14.6 L1644.6,14.6 L1644.6,16.6 L1642.6,14.6 Z" fill="url(#bub)" stroke="#8a8a92" stroke-width="0.9"/>
<path d="M1632,17.4 C1638,17.6 1638.4,10.2 1632.4,10.2 C1626.2,10.2 1626.2,17 1629.6,17.4 L1630,19.6 L1632,17.4 Z" fill="url(#bub)" stroke="#8a8a92" stroke-width="0.9"/>
</svg></div><div id="tbl1"></div><div id="tbl2"></div>
<div id="oc">
<div style="left:0;top:24px;width:219px;height:40px;background:#fff;"></div>
<div style="left:0;top:64px;width:230px;height:2px;background:#fff;"></div>
<div class="big" style="left:0;width:109px;"></div>
<div class="big" style="left:111px;width:108px;"></div>
<div class="tab" style="left:0;width:52px;text-indent:-2px;">SELL</div>
<div class="tab" style="left:167px;width:52px;letter-spacing:-0.3px;text-indent:-1.5px;">BUY</div>
<div class="ul" style="left:4px;width:44px;"></div>
<div class="ul" style="left:171px;width:44px;"></div>
<div style="left:52px;top:0;width:115px;height:24px;background:#fff;"></div>
<div style="left:54px;top:0;width:111px;height:22px;background:#fff;border:1px solid #a2a4ac;"></div>
<div class="spin" style="left:56px;top:2px;width:18px;height:18px;"></div>
<div style="left:75px;top:1px;width:1px;height:20px;background:#a2a4ac;"></div>
<div class="spin" style="left:144px;top:2px;width:19px;height:18px;"></div>
<div style="left:143px;top:1px;width:1px;height:20px;background:#a2a4ac;"></div>
<div style="left:62px;top:9px;width:0;height:0;border-left:3px solid transparent;border-right:3px solid transparent;border-top:3px solid #4858c0;"></div>
<div style="left:150px;top:9px;width:0;height:0;border-left:3px solid transparent;border-right:3px solid transparent;border-bottom:3px solid #4858c0;"></div>
<div style="left:100px;top:4px;width:40px;text-align:right;font-size:12px;line-height:14px;color:#000;">1.00</div>
<div class="num" style="left:16px;top:45px;">18076</div>
<div class="dot" style="left:54px;top:30px;">.</div>
<div class="zero" style="left:60.4px;top:26.4px;">0</div>
<div class="num" style="left:126px;top:45px;">18099</div>
<div class="dot" style="left:165px;top:30px;">.</div>
<div class="zero" style="left:171.4px;top:26.4px;">0</div>
</div>

</body></html>
